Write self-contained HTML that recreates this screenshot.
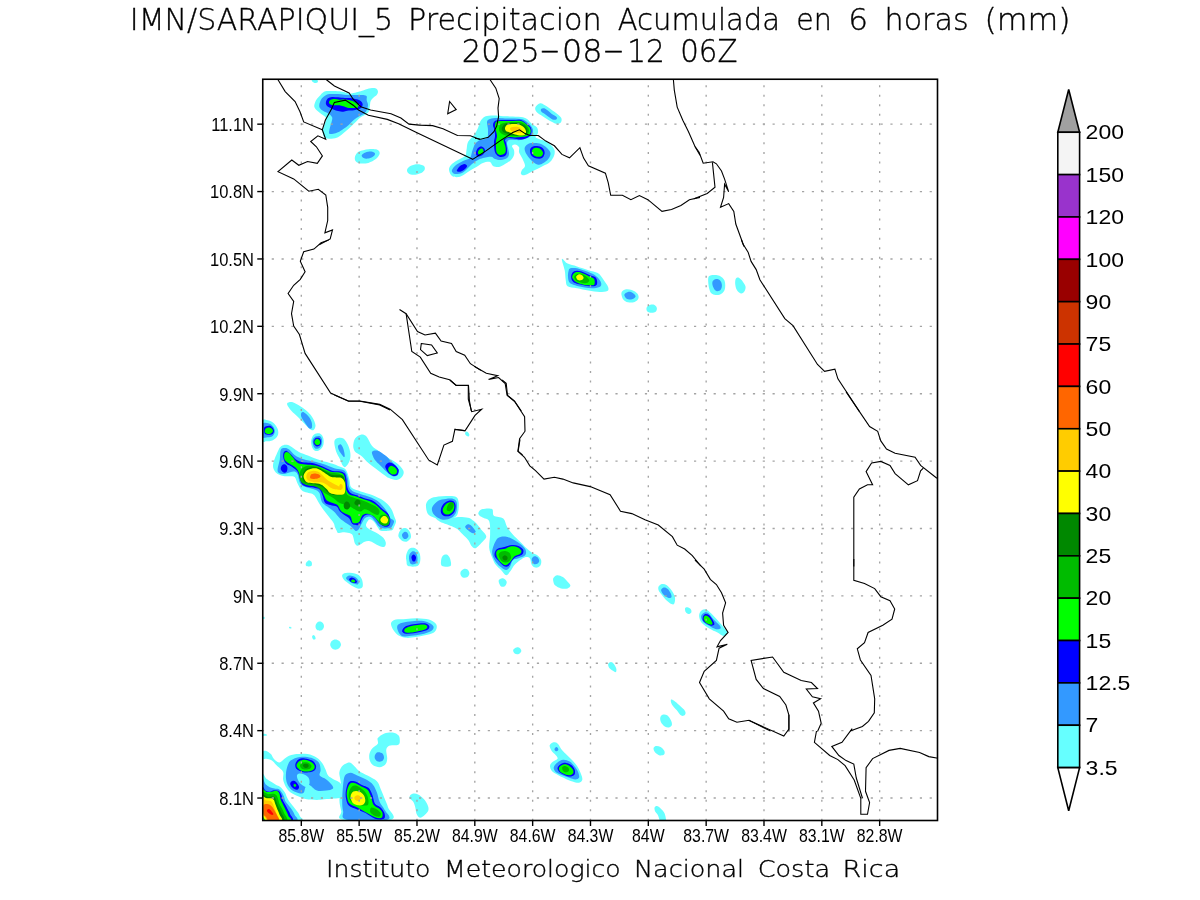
<!DOCTYPE html>
<html><head><meta charset="utf-8"><title>IMN/SARAPIQUI_5 Precipitacion Acumulada en 6 horas</title>
<style>
html,body{margin:0;padding:0;background:#fff;width:1200px;height:900px;overflow:hidden}
svg{display:block}
.g{stroke:#a4a4a4;stroke-width:1.35;stroke-dasharray:2 7.527;stroke-dashoffset:3.577}
.gh{stroke:#a4a4a4;stroke-width:1.35;stroke-dasharray:2.2 7.62;stroke-dashoffset:0.85}
.t{stroke:#000;stroke-width:1.4}
.ax{font-family:"Liberation Sans",Arial,sans-serif;font-size:17.5px;fill:#000}
.cbl{font-family:"Liberation Sans",Arial,sans-serif;font-size:20px;fill:#000}
.cb{stroke:#000;stroke-width:1.6}
.ti{font-family:"DejaVu Sans",sans-serif;font-weight:200;font-size:31px;fill:#000;stroke:#000;stroke-width:0.35px}
.co{fill:none;stroke:#000;stroke-width:1.1;stroke-linejoin:miter;stroke-miterlimit:6}
</style></head><body>
<svg width="1200" height="900" viewBox="0 0 1200 900">
<defs><clipPath id="mc"><rect x="262.75" y="79.25" width="674.75" height="741.25"/></clipPath></defs>
<g id="blobs" clip-path="url(#mc)"><path d="M314.3,105.0C314.6,103.8 315.2,101.8 316.0,100.3C316.8,98.9 318.0,97.8 319.3,96.3C320.7,94.9 322.2,92.6 324.0,91.7C325.8,90.8 327.4,91.1 330.0,91.0C332.6,90.9 336.9,91.1 339.3,91.3C341.8,91.6 342.9,91.9 344.7,92.3C346.4,92.7 348.0,93.7 350.0,93.7C352.0,93.7 354.9,92.7 356.7,92.3C358.4,91.9 358.9,91.9 360.7,91.3C362.4,90.8 365.2,89.6 367.3,89.0C369.4,88.4 371.8,88.0 373.3,88.0C374.9,88.0 375.9,88.4 376.7,89.0C377.4,89.6 378.0,90.7 378.0,91.7C378.0,92.7 377.4,94.0 376.7,95.0C375.9,96.0 374.3,96.7 373.3,97.7C372.3,98.7 371.2,99.8 370.7,101.0C370.1,102.2 370.3,103.2 370.0,105.0C369.7,106.8 369.6,110.0 368.7,111.7C367.8,113.3 366.1,114.0 364.7,115.0C363.2,116.0 361.3,116.7 360.0,117.7C358.7,118.7 358.1,119.6 356.7,121.0C355.2,122.4 353.1,124.7 351.3,126.3C349.6,128.0 347.7,129.6 346.0,131.0C344.3,132.4 342.9,133.9 341.3,135.0C339.8,136.1 338.6,137.1 336.7,137.7C334.8,138.3 331.8,138.6 330.0,138.7C328.2,138.8 327.1,138.8 326.0,138.3C324.9,137.8 323.9,137.0 323.3,135.7C322.8,134.3 322.5,132.1 322.7,130.3C322.8,128.6 323.8,126.7 324.3,125.0C324.9,123.3 325.8,121.7 326.0,120.3C326.2,119.0 326.3,118.2 325.3,117.0C324.3,115.8 321.4,114.1 320.0,113.0C318.6,111.9 317.6,111.2 316.7,110.3C315.8,109.4 315.1,108.6 314.7,107.7C314.3,106.8 314.1,106.2 314.3,105.0Z" fill="#66ffff"/>
<path d="M319.3,105.0C319.4,103.7 320.0,101.7 320.7,100.3C321.3,99.0 322.1,98.0 323.3,97.0C324.6,96.0 326.1,94.8 328.0,94.3C329.9,93.8 332.4,94.0 334.7,94.0C336.9,94.0 339.2,94.2 341.3,94.3C343.4,94.5 345.4,94.9 347.3,95.0C349.2,95.1 350.9,95.0 352.7,95.0C354.4,95.0 356.2,95.0 358.0,95.0C359.8,95.0 361.9,94.8 363.3,95.0C364.8,95.2 366.1,95.4 366.7,96.3C367.2,97.2 366.4,98.9 366.7,100.3C366.9,101.8 368.0,103.3 368.0,105.0C368.0,106.7 367.3,108.9 366.7,110.3C366.0,111.8 365.2,112.7 364.0,113.7C362.8,114.7 361.0,115.3 359.3,116.3C357.7,117.3 355.8,118.2 354.0,119.7C352.2,121.1 350.4,123.4 348.7,125.0C346.9,126.6 345.1,127.8 343.3,129.0C341.6,130.2 339.7,131.6 338.0,132.3C336.3,133.1 334.8,133.4 333.3,133.7C331.9,133.9 330.0,134.2 329.3,133.7C328.7,133.1 329.1,131.8 329.3,130.3C329.6,128.9 330.2,126.7 330.7,125.0C331.1,123.3 331.8,121.7 332.0,120.3C332.2,119.0 332.6,118.1 332.0,117.0C331.4,115.9 330.1,114.7 328.7,113.7C327.2,112.7 324.8,111.9 323.3,111.0C321.9,110.1 320.7,109.3 320.0,108.3C319.3,107.3 319.2,106.3 319.3,105.0Z" fill="#3399ff"/>
<path d="M326.0,101.7C326.3,100.7 327.0,99.1 328.0,98.3C329.0,97.6 330.3,97.2 332.0,97.0C333.7,96.8 335.9,97.2 338.0,97.3C340.1,97.5 342.7,97.9 344.7,98.0C346.7,98.1 348.0,97.8 350.0,98.0C352.0,98.2 354.9,98.8 356.7,99.3C358.4,99.8 359.7,100.2 360.7,101.0C361.7,101.8 362.6,103.2 362.7,104.3C362.8,105.4 362.1,106.8 361.3,107.7C360.6,108.5 359.2,108.9 358.0,109.3C356.8,109.8 355.8,110.1 354.0,110.3C352.2,110.6 349.1,110.4 347.3,110.7C345.6,110.9 344.9,111.6 343.3,111.7C341.8,111.7 339.6,111.3 338.0,111.0C336.4,110.7 335.3,110.2 334.0,109.7C332.7,109.1 331.1,108.2 330.0,107.7C328.9,107.1 328.0,106.9 327.3,106.3C326.7,105.8 326.2,105.1 326.0,104.3C325.8,103.6 325.7,102.7 326.0,101.7Z" fill="#0000ff"/>
<path d="M329.0,102.0C329.2,101.3 329.7,100.2 330.7,99.7C331.6,99.2 333.2,99.0 334.7,99.0C336.1,99.0 337.7,99.6 339.3,99.7C341.0,99.8 343.1,99.5 344.7,99.5C346.2,99.6 347.3,99.8 348.7,100.0C350.0,100.2 351.4,100.5 352.7,101.0C353.9,101.5 355.1,102.3 356.0,103.0C356.9,103.7 357.7,104.2 358.0,105.0C358.3,105.8 358.4,107.2 357.7,107.7C356.9,108.2 355.1,108.0 353.3,108.0C351.6,108.0 349.0,107.9 347.3,107.7C345.7,107.4 344.7,106.7 343.3,106.3C342.0,105.9 340.7,105.5 339.3,105.3C338.0,105.2 336.6,105.4 335.3,105.3C334.1,105.3 332.9,105.2 332.0,105.0C331.1,104.8 330.2,104.5 329.7,104.0C329.2,103.5 328.8,102.7 329.0,102.0Z" fill="#00ff00"/>
<path d="M449.0,170.0C448.8,168.2 449.7,166.6 451.0,165.0C452.3,163.4 454.7,162.0 457.0,160.5C459.3,159.0 463.4,157.8 465.0,156.0C466.6,154.2 466.0,152.3 466.5,150.0C467.0,147.7 466.8,144.5 468.0,142.0C469.2,139.5 472.3,137.3 474.0,135.0C475.7,132.7 477.0,130.2 478.0,128.0C479.0,125.8 479.2,123.7 480.0,122.0C480.8,120.3 481.8,119.0 483.0,118.0C484.2,117.0 485.0,116.4 487.0,116.0C489.0,115.6 492.7,115.5 495.0,115.5C497.3,115.5 498.5,115.8 501.0,116.0C503.5,116.2 506.7,116.3 510.0,116.5C513.3,116.7 518.2,116.6 521.0,117.0C523.8,117.4 525.2,117.8 527.0,119.0C528.8,120.2 530.3,122.6 532.0,124.0C533.7,125.4 536.0,126.0 537.0,127.5C538.0,129.0 538.2,131.4 538.0,133.0C537.8,134.6 535.3,136.0 535.5,137.0C535.7,138.0 537.4,138.3 539.0,139.0C540.6,139.7 543.0,140.0 545.0,141.0C547.0,142.0 549.4,143.5 551.0,145.0C552.6,146.5 554.0,148.2 554.5,150.0C555.0,151.8 554.8,154.0 554.0,156.0C553.2,158.0 551.8,160.3 550.0,162.0C548.2,163.7 545.5,164.7 543.0,166.0C540.5,167.3 538.0,168.5 535.0,170.0C532.0,171.5 527.3,174.3 525.0,175.0C522.7,175.7 521.5,174.8 521.0,174.0C520.5,173.2 521.3,171.3 522.0,170.0C522.7,168.7 524.8,167.7 525.0,166.0C525.2,164.3 523.7,161.7 523.0,160.0C522.3,158.3 521.7,157.3 521.0,156.0C520.3,154.7 519.3,153.5 519.0,152.0C518.7,150.5 519.7,148.2 519.0,147.0C518.3,145.8 516.2,144.7 515.0,144.5C513.8,144.3 512.2,145.1 512.0,146.0C511.8,146.9 513.7,148.5 514.0,150.0C514.3,151.5 514.5,153.3 514.0,155.0C513.5,156.7 512.5,158.5 511.0,160.0C509.5,161.5 507.0,162.8 505.0,164.0C503.0,165.2 501.0,166.7 499.0,167.0C497.0,167.3 494.5,166.8 493.0,166.0C491.5,165.2 491.7,162.5 490.0,162.0C488.3,161.5 485.0,162.3 483.0,163.0C481.0,163.7 480.0,164.8 478.0,166.0C476.0,167.2 473.2,168.7 471.0,170.0C468.8,171.3 467.0,172.8 465.0,174.0C463.0,175.2 461.2,176.7 459.0,177.0C456.8,177.3 453.7,177.2 452.0,176.0C450.3,174.8 449.2,171.8 449.0,170.0Z" fill="#66ffff"/>
<path d="M452.0,170.0C452.5,168.7 454.2,166.5 456.0,165.0C457.8,163.5 460.7,162.2 463.0,161.0C465.3,159.8 468.5,159.5 470.0,158.0C471.5,156.5 471.2,154.3 472.0,152.0C472.8,149.7 473.7,146.0 475.0,144.0C476.3,142.0 478.0,141.0 480.0,140.0C482.0,139.0 485.7,139.7 487.0,138.0C488.3,136.3 488.0,132.7 488.0,130.0C488.0,127.3 486.7,123.8 487.0,122.0C487.3,120.2 488.3,119.7 490.0,119.0C491.7,118.3 494.5,118.1 497.0,118.0C499.5,117.9 501.0,118.3 505.0,118.5C509.0,118.7 517.3,118.4 521.0,119.0C524.7,119.6 525.3,120.8 527.0,122.0C528.7,123.2 530.0,124.7 531.0,126.0C532.0,127.3 532.8,128.5 533.0,130.0C533.2,131.5 533.0,133.7 532.0,135.0C531.0,136.3 528.8,137.2 527.0,138.0C525.2,138.8 523.0,139.7 521.0,140.0C519.0,140.3 517.0,140.0 515.0,140.0C513.0,140.0 510.3,139.5 509.0,140.0C507.7,140.5 507.2,141.7 507.0,143.0C506.8,144.3 507.7,146.2 508.0,148.0C508.3,149.8 509.2,152.3 509.0,154.0C508.8,155.7 508.3,157.0 507.0,158.0C505.7,159.0 503.0,159.8 501.0,160.0C499.0,160.2 496.5,159.5 495.0,159.0C493.5,158.5 493.2,157.3 492.0,157.0C490.8,156.7 489.5,156.8 488.0,157.0C486.5,157.2 484.7,157.5 483.0,158.0C481.3,158.5 479.8,159.0 478.0,160.0C476.2,161.0 473.8,162.5 472.0,164.0C470.2,165.5 468.7,167.5 467.0,169.0C465.3,170.5 463.8,172.2 462.0,173.0C460.2,173.8 457.5,174.0 456.0,174.0C454.5,174.0 453.7,173.7 453.0,173.0C452.3,172.3 451.5,171.3 452.0,170.0Z" fill="#3399ff"/>
<path d="M525.0,147.0C525.7,145.8 527.3,144.2 529.0,143.5C530.7,142.8 533.0,142.9 535.0,143.0C537.0,143.1 539.0,143.2 541.0,144.0C543.0,144.8 545.4,146.5 547.0,148.0C548.6,149.5 550.2,151.3 550.5,153.0C550.8,154.7 549.9,156.5 549.0,158.0C548.1,159.5 546.5,160.9 545.0,162.0C543.5,163.1 541.5,164.2 540.0,164.5C538.5,164.8 537.5,164.8 536.0,164.0C534.5,163.2 532.5,161.5 531.0,160.0C529.5,158.5 528.0,156.5 527.0,155.0C526.0,153.5 525.3,152.3 525.0,151.0C524.7,149.7 524.3,148.2 525.0,147.0Z" fill="#3399ff"/>
<path d="M457.0,170.0C457.4,169.1 458.8,167.0 460.0,166.0C461.2,165.0 463.3,164.0 464.5,164.0C465.7,164.0 466.9,165.2 467.0,166.0C467.1,166.8 466.0,168.1 465.0,169.0C464.0,169.9 462.2,171.1 461.0,171.5C459.8,171.9 458.2,171.8 457.5,171.5C456.8,171.2 456.6,170.9 457.0,170.0Z" fill="#0000ff"/>
<path d="M476.0,152.0C476.2,150.8 477.2,148.9 478.0,148.0C478.8,147.1 480.0,146.5 481.0,146.5C482.0,146.5 483.3,147.2 484.0,148.0C484.7,148.8 485.2,149.9 485.0,151.0C484.8,152.1 484.0,153.6 483.0,154.5C482.0,155.4 480.1,156.3 479.0,156.5C477.9,156.7 477.0,156.2 476.5,155.5C476.0,154.8 475.8,153.2 476.0,152.0Z" fill="#0000ff"/>
<path d="M493.0,125.0C493.1,123.5 493.7,121.8 495.0,121.0C496.3,120.2 498.0,120.2 501.0,120.0C504.0,119.8 509.7,120.0 513.0,120.0C516.3,120.0 518.7,119.3 521.0,120.0C523.3,120.7 525.3,122.7 527.0,124.0C528.7,125.3 530.3,126.3 531.0,128.0C531.7,129.7 531.7,132.3 531.0,134.0C530.3,135.7 528.7,137.1 527.0,138.0C525.3,138.9 523.3,139.4 521.0,139.5C518.7,139.6 515.2,138.8 513.0,138.5C510.8,138.2 509.3,137.8 508.0,138.0C506.7,138.2 505.3,139.2 505.0,140.0C504.7,140.8 505.7,141.5 506.0,143.0C506.3,144.5 506.9,147.2 507.0,149.0C507.1,150.8 507.0,152.8 506.5,154.0C506.0,155.2 505.2,156.0 504.0,156.5C502.8,157.0 500.8,157.2 499.5,156.8C498.2,156.4 496.8,155.1 496.0,154.0C495.2,152.9 494.8,152.0 494.5,150.0C494.2,148.0 493.9,144.3 494.0,142.0C494.1,139.7 494.9,138.0 495.0,136.0C495.1,134.0 494.8,131.8 494.5,130.0C494.2,128.2 492.9,126.5 493.0,125.0Z" fill="#0000ff"/>
<path d="M530.0,150.0C530.2,148.8 531.0,147.7 532.0,147.0C533.0,146.3 534.5,146.0 536.0,146.0C537.5,146.0 539.7,146.3 541.0,147.0C542.3,147.7 543.4,148.8 544.0,150.0C544.6,151.2 544.8,152.7 544.5,154.0C544.2,155.3 543.2,157.2 542.0,158.0C540.8,158.8 538.5,158.7 537.0,158.5C535.5,158.3 534.1,157.8 533.0,157.0C531.9,156.2 531.0,155.2 530.5,154.0C530.0,152.8 529.8,151.2 530.0,150.0Z" fill="#0000ff"/>
<path d="M478.0,152.0C478.2,151.2 478.8,150.1 479.5,149.5C480.2,148.9 481.3,148.3 482.0,148.5C482.7,148.7 483.3,149.8 483.5,150.5C483.7,151.2 483.5,152.3 483.0,153.0C482.5,153.7 481.2,154.3 480.5,154.5C479.8,154.7 478.9,154.4 478.5,154.0C478.1,153.6 477.8,152.8 478.0,152.0Z" fill="#00ff00"/>
<path d="M495.0,127.0C495.0,125.5 495.0,123.0 496.0,122.0C497.0,121.0 498.2,121.2 501.0,121.0C503.8,120.8 509.7,121.0 513.0,121.0C516.3,121.0 518.8,120.5 521.0,121.0C523.2,121.5 524.5,122.8 526.0,124.0C527.5,125.2 529.2,126.5 530.0,128.0C530.8,129.5 531.0,131.7 530.5,133.0C530.0,134.3 528.6,135.3 527.0,136.0C525.4,136.7 523.0,136.8 521.0,137.0C519.0,137.2 516.8,137.5 515.0,137.5C513.2,137.5 511.8,136.8 510.0,137.0C508.2,137.2 505.0,138.2 504.0,139.0C503.0,139.8 503.8,140.7 504.0,142.0C504.2,143.3 505.2,145.3 505.5,147.0C505.8,148.7 505.9,150.8 505.5,152.0C505.1,153.2 504.1,154.0 503.0,154.5C501.9,155.0 500.1,155.2 499.0,154.8C497.9,154.4 497.0,153.3 496.5,152.0C496.0,150.7 496.1,148.8 496.0,147.0C495.9,145.2 495.8,142.8 496.0,141.0C496.2,139.2 497.0,137.7 497.0,136.0C497.0,134.3 496.3,132.5 496.0,131.0C495.7,129.5 495.0,128.5 495.0,127.0Z" fill="#00ff00"/>
<path d="M532.0,151.0C532.2,150.2 532.7,149.0 533.5,148.5C534.3,148.0 535.8,147.6 537.0,147.8C538.2,148.0 540.0,148.6 541.0,149.5C542.0,150.4 542.9,151.9 543.0,153.0C543.1,154.1 542.4,155.6 541.5,156.2C540.6,156.8 538.8,156.9 537.5,156.8C536.2,156.7 534.9,156.1 534.0,155.5C533.1,154.9 532.3,154.2 532.0,153.5C531.7,152.8 531.8,151.8 532.0,151.0Z" fill="#00ff00"/>
<path d="M499.0,128.0C499.2,126.8 499.7,124.9 501.0,124.0C502.3,123.1 504.7,122.8 507.0,122.5C509.3,122.2 512.5,122.0 515.0,122.0C517.5,122.0 520.0,121.8 522.0,122.5C524.0,123.2 525.8,124.8 527.0,126.0C528.2,127.2 528.8,128.7 529.0,130.0C529.2,131.3 528.7,133.1 528.0,134.0C527.3,134.9 526.5,135.1 525.0,135.5C523.5,135.9 521.0,136.1 519.0,136.2C517.0,136.3 515.0,136.3 513.0,136.2C511.0,136.1 508.8,136.2 507.0,135.8C505.2,135.4 503.2,134.7 502.0,134.0C500.8,133.3 500.0,132.5 499.5,131.5C499.0,130.5 498.8,129.2 499.0,128.0Z" fill="#00bb00"/>
<path d="M502.0,127.5C502.5,126.5 503.5,124.8 505.0,124.0C506.5,123.2 508.7,123.1 511.0,123.0C513.3,122.9 516.7,123.0 519.0,123.5C521.3,124.0 523.6,124.9 525.0,126.0C526.4,127.1 527.3,128.7 527.5,130.0C527.7,131.3 527.1,133.1 526.0,134.0C524.9,134.9 522.8,135.2 521.0,135.5C519.2,135.8 517.0,135.7 515.0,135.5C513.0,135.3 510.8,135.0 509.0,134.5C507.2,134.0 505.2,133.2 504.0,132.5C502.8,131.8 502.3,130.8 502.0,130.0C501.7,129.2 501.5,128.5 502.0,127.5Z" fill="#008800"/>
<path d="M505.0,128.0C505.2,127.0 505.7,125.7 507.0,125.0C508.3,124.3 511.0,124.1 513.0,124.0C515.0,123.9 517.2,123.9 519.0,124.5C520.8,125.1 522.8,126.3 524.0,127.5C525.2,128.7 525.8,130.3 526.0,131.5C526.2,132.7 525.8,133.8 525.0,134.5C524.2,135.2 522.7,135.5 521.0,135.5C519.3,135.5 516.8,135.0 515.0,134.5C513.2,134.0 511.5,133.1 510.0,132.5C508.5,131.9 506.8,131.8 506.0,131.0C505.2,130.2 504.8,129.0 505.0,128.0Z" fill="#ffff00"/>
<path d="M510.0,128.5C510.2,127.8 511.7,127.2 513.0,127.0C514.3,126.8 516.7,126.7 518.0,127.0C519.3,127.3 520.3,128.2 521.0,129.0C521.7,129.8 522.2,130.8 522.0,131.5C521.8,132.2 520.7,132.8 519.5,133.0C518.3,133.2 516.3,132.8 515.0,132.5C513.7,132.2 512.3,131.7 511.5,131.0C510.7,130.3 509.8,129.2 510.0,128.5Z" fill="#ffcc00"/>
<path d="M535.5,107.1C536.1,105.7 538.6,103.7 540.2,103.3C541.8,103.0 542.5,103.8 544.9,105.2C547.3,106.6 551.7,109.8 554.4,111.8C557.0,113.9 559.9,115.8 561.0,117.5C562.1,119.2 561.7,121.2 561.0,122.2C560.2,123.3 558.0,123.9 556.2,123.7C554.5,123.6 552.8,122.5 550.6,121.3C548.4,120.1 545.4,118.1 543.0,116.6C540.7,115.0 537.7,113.4 536.4,111.8C535.1,110.3 534.8,108.5 535.5,107.1Z" fill="#66ffff"/>
<path d="M541.1,109.0C541.7,108.5 543.2,107.8 544.9,108.6C546.6,109.4 549.6,112.3 551.5,113.7C553.5,115.1 555.8,116.0 556.6,116.9C557.4,117.9 556.9,119.0 556.2,119.4C555.5,119.8 554.2,120.2 552.5,119.4C550.7,118.6 547.7,115.9 545.8,114.7C544.0,113.4 542.3,112.8 541.5,111.8C540.7,110.9 540.6,109.5 541.1,109.0Z" fill="#3399ff"/>
<path d="M355.1,156.2C355.7,154.7 356.7,152.7 358.9,151.5C361.1,150.4 365.4,149.6 368.4,149.2C371.3,148.9 375.0,148.9 376.9,149.6C378.7,150.3 379.9,151.8 379.7,153.4C379.5,155.0 377.8,157.5 375.9,159.1C374.0,160.6 371.0,162.1 368.4,162.9C365.7,163.6 362.0,163.7 359.9,163.4C357.7,163.1 356.3,162.2 355.5,161.0C354.7,159.8 354.6,157.8 355.1,156.2Z" fill="#66ffff"/>
<path d="M361.7,155.3C362.1,154.4 363.9,153.1 365.5,152.5C367.1,151.8 369.6,151.4 371.2,151.5C372.8,151.7 374.7,152.6 375.0,153.4C375.3,154.3 374.2,155.8 373.1,156.6C372.0,157.5 369.9,158.3 368.4,158.5C366.8,158.8 364.7,158.7 363.6,158.1C362.5,157.6 361.4,156.2 361.7,155.3Z" fill="#3399ff"/>
<path d="M407.1,169.5C407.5,168.2 409.1,166.6 410.9,165.7C412.6,164.8 415.3,164.2 417.5,164.2C419.6,164.2 422.5,164.8 423.7,165.7C424.9,166.6 425.1,168.3 424.7,169.5C424.2,170.7 423.1,172.0 421.3,172.9C419.4,173.7 415.8,174.7 413.7,174.8C411.6,174.8 409.5,174.1 408.4,173.2C407.3,172.4 406.7,170.7 407.1,169.5Z" fill="#66ffff"/>
<path d="M311.7,80.7C311.5,80.1 312.6,79.8 313.6,79.7C314.5,79.6 316.7,79.7 317.3,80.1C318.0,80.5 318.2,81.7 317.7,82.2C317.3,82.7 315.5,83.2 314.5,82.9C313.5,82.7 311.8,81.2 311.7,80.7Z" fill="#66ffff"/>
<path d="M561.9,258.9C562.4,257.8 565.1,262.4 567.6,263.6C570.1,264.9 573.6,265.3 577.0,266.5C580.5,267.6 584.9,269.1 588.4,270.2C591.8,271.3 595.3,271.5 597.8,273.1C600.3,274.6 601.7,277.3 603.5,279.7C605.2,282.0 607.6,285.3 608.2,287.2C608.8,289.1 608.7,290.2 607.3,291.0C605.8,291.8 602.8,292.0 599.7,292.0C596.5,291.9 592.1,291.3 588.4,290.6C584.6,290.0 580.5,288.9 577.0,288.2C573.6,287.5 569.5,287.7 567.6,286.3C565.7,284.9 566.2,282.4 565.7,279.7C565.2,277.0 565.4,273.7 564.7,270.2C564.1,266.8 561.4,260.0 561.9,258.9Z" fill="#66ffff"/>
<path d="M568.5,271.2C568.9,269.8 569.0,268.8 570.4,268.3C571.8,267.9 574.0,267.7 577.0,268.3C580.0,269.0 585.2,270.9 588.4,272.1C591.5,273.4 593.9,274.3 595.9,275.9C598.0,277.5 599.9,279.8 600.6,281.6C601.4,283.3 601.7,285.2 600.6,286.3C599.5,287.4 596.7,288.0 594.0,288.2C591.3,288.4 587.7,288.1 584.6,287.6C581.4,287.1 577.7,286.2 575.1,285.3C572.6,284.5 570.7,283.9 569.5,282.5C568.3,281.1 568.1,278.7 568.0,276.8C567.8,275.0 568.1,272.6 568.5,271.2Z" fill="#3399ff"/>
<path d="M571.4,275.0C571.8,273.5 572.6,271.8 574.2,271.2C575.8,270.5 578.3,270.5 580.8,271.2C583.3,271.8 586.8,273.8 589.3,275.0C591.8,276.1 594.7,276.2 595.9,277.8C597.2,279.4 597.5,283.0 596.9,284.4C596.2,285.8 594.3,286.1 592.1,286.3C589.9,286.4 586.5,285.9 583.6,285.3C580.8,284.8 577.1,284.0 575.1,283.1C573.1,282.1 572.4,281.0 571.7,279.7C571.1,278.3 570.9,276.4 571.4,275.0Z" fill="#0000ff"/>
<path d="M572.3,275.9C572.7,274.9 573.7,273.1 575.1,272.5C576.5,271.9 578.6,271.9 580.8,272.5C583.0,273.1 586.2,274.9 588.4,275.9C590.6,276.9 593.0,277.3 594.0,278.7C595.0,280.1 595.0,283.3 594.4,284.4C593.8,285.5 592.2,285.3 590.2,285.3C588.3,285.3 585.1,285.0 582.7,284.4C580.3,283.8 577.7,282.9 576.1,281.9C574.4,281.0 573.5,279.7 572.9,278.7C572.2,277.7 571.9,276.9 572.3,275.9Z" fill="#00ff00"/>
<path d="M574.2,276.8C574.3,275.7 575.8,274.5 577.0,274.0C578.3,273.5 580.2,273.5 581.7,274.0C583.3,274.5 585.2,275.7 586.5,276.8C587.7,277.9 589.3,279.6 589.3,280.6C589.3,281.7 587.9,282.8 586.5,283.1C585.1,283.4 582.5,282.9 580.8,282.5C579.1,282.1 577.2,281.6 576.1,280.6C575.0,279.7 574.0,277.9 574.2,276.8Z" fill="#00bb00"/>
<path d="M576.1,276.8C576.2,275.9 577.6,274.7 578.5,274.4C579.5,274.1 580.9,274.4 581.7,275.0C582.6,275.5 583.6,276.9 583.6,277.8C583.6,278.6 582.7,279.7 581.7,280.1C580.8,280.4 578.9,280.6 578.0,280.1C577.0,279.5 576.0,277.8 576.1,276.8Z" fill="#ffff00"/>
<path d="M621.4,292.9C621.7,291.2 623.5,290.0 625.2,289.5C626.9,289.0 629.8,289.3 631.8,290.1C633.9,290.8 636.4,292.4 637.5,293.8C638.6,295.3 638.9,297.2 638.4,298.6C638.0,299.9 636.4,301.3 634.6,302.0C632.9,302.6 629.9,302.8 628.0,302.3C626.1,301.9 624.4,301.1 623.3,299.5C622.2,297.9 621.1,294.6 621.4,292.9Z" fill="#66ffff"/>
<path d="M624.3,294.8C624.4,293.6 626.6,292.3 628.0,292.0C629.4,291.6 631.5,292.2 632.8,292.9C634.0,293.6 635.6,295.3 635.6,296.3C635.6,297.3 634.2,298.5 632.8,298.9C631.3,299.4 628.5,299.8 627.1,299.1C625.7,298.4 624.1,296.0 624.3,294.8Z" fill="#3399ff"/>
<path d="M646.5,308.0C646.8,307.0 647.6,305.7 648.8,305.2C650.0,304.6 652.2,304.2 653.5,304.6C654.9,305.0 656.3,306.5 656.7,307.6C657.2,308.8 656.8,310.6 656.0,311.4C655.1,312.3 653.1,312.7 651.6,312.7C650.2,312.7 648.2,312.2 647.3,311.4C646.5,310.6 646.3,309.1 646.5,308.0Z" fill="#66ffff"/>
<path d="M708.3,277.8C708.8,275.5 710.5,275.5 712.4,275.1C714.2,274.8 717.5,274.8 719.5,275.7C721.5,276.7 723.8,278.5 724.6,280.8C725.5,283.2 725.5,287.7 724.6,290.0C723.8,292.3 721.5,294.0 719.5,294.7C717.5,295.4 714.1,295.1 712.4,294.1C710.7,293.2 710.0,291.7 709.3,289.0C708.6,286.3 707.8,280.1 708.3,277.8Z" fill="#66ffff"/>
<path d="M712.4,281.9C712.7,280.5 714.2,279.5 715.4,279.2C716.7,278.9 718.8,279.3 719.9,280.2C721.0,281.2 721.8,283.3 721.9,284.9C722.1,286.5 721.4,289.0 720.5,290.0C719.6,291.0 717.6,291.5 716.4,291.0C715.2,290.6 714.1,288.9 713.4,287.4C712.7,285.8 712.0,283.2 712.4,281.9Z" fill="#3399ff"/>
<path d="M735.8,278.8C736.4,277.8 737.7,277.3 738.9,277.8C740.1,278.3 741.9,280.3 743.0,281.9C744.1,283.4 745.5,285.3 745.6,287.0C745.8,288.7 744.8,291.0 744.0,292.1C743.2,293.2 742.1,293.8 740.9,293.5C739.7,293.2 737.8,291.6 736.9,290.0C735.9,288.4 735.4,285.8 735.2,283.9C735.1,282.0 735.2,279.8 735.8,278.8Z" fill="#66ffff"/>
<path d="M273.0,464.9C273.3,461.4 276.3,454.8 277.7,451.7C279.1,448.6 279.8,447.1 281.5,446.0C283.2,444.9 285.3,444.2 288.1,445.1C290.9,446.1 295.2,450.0 298.5,451.7C301.8,453.4 304.8,454.2 307.9,455.5C311.0,456.8 314.1,458.1 317.3,459.2C320.5,460.3 323.3,461.0 326.8,462.1C330.3,463.2 335.0,464.6 338.1,465.9C341.2,467.1 343.8,467.2 345.7,469.6C347.6,472.0 348.6,477.0 349.5,480.0C350.4,483.0 349.5,485.7 351.4,487.6C353.3,489.5 357.4,490.1 360.8,491.4C364.2,492.6 368.3,493.5 372.1,495.1C375.9,496.7 380.4,498.6 383.5,500.8C386.6,503.0 389.1,505.6 391.0,508.4C392.9,511.2 394.0,515.6 394.8,517.8C395.6,520.0 396.1,520.2 396.0,521.7C395.9,523.2 394.6,525.7 394.0,527.0C393.4,528.3 393.6,529.1 392.7,529.7C391.8,530.3 390.7,530.5 388.7,530.7C386.7,530.9 382.5,531.2 380.7,530.7C378.9,530.2 379.1,529.2 378.0,527.7C376.9,526.2 375.3,523.1 374.0,521.7C372.7,520.3 371.1,519.3 370.0,519.3C368.9,519.3 368.0,520.8 367.3,521.7C366.6,522.7 366.0,524.0 366.0,525.0C366.0,526.0 366.2,526.7 367.3,527.7C368.4,528.7 370.9,530.0 372.7,531.0C374.5,532.0 376.2,532.6 378.0,533.7C379.8,534.8 382.0,536.3 383.3,537.7C384.6,539.1 385.4,541.0 385.7,542.3C386.0,543.6 385.8,544.9 385.3,545.7C384.8,546.5 384.1,547.2 382.7,547.0C381.3,546.8 378.8,545.7 376.7,544.7C374.6,543.8 372.0,541.8 370.0,541.3C368.0,540.8 366.2,541.2 364.7,541.7C363.1,542.2 361.9,543.6 360.7,544.3C359.5,545.0 358.3,545.9 357.3,545.7C356.3,545.5 355.3,544.3 354.7,543.0C354.1,541.7 353.9,539.4 353.5,538.0C353.1,536.6 352.9,535.4 352.2,534.6C351.5,533.8 350.7,533.4 349.1,533.0C347.6,532.6 344.7,532.2 342.9,532.2C341.1,532.2 339.2,533.2 338.2,533.0C337.2,532.8 337.2,531.6 336.7,530.7C336.2,529.8 335.6,528.9 335.1,527.6C334.6,526.3 334.6,524.7 333.6,522.9C332.6,521.1 330.6,518.9 328.9,516.7C327.2,514.5 325.1,512.0 323.4,509.7C321.7,507.4 320.1,504.8 318.8,502.7C317.5,500.6 316.7,498.6 315.7,497.2C314.7,495.8 314.0,494.9 312.6,494.1C311.2,493.3 308.9,493.2 307.1,492.6C305.3,492.0 303.2,491.6 301.7,490.2C300.1,488.8 299.0,486.2 297.8,484.0C296.6,481.8 296.0,478.3 294.7,477.0C293.4,475.7 291.9,476.4 290.0,476.2C288.1,476.0 285.7,476.6 283.3,476.0C280.9,475.4 277.5,474.4 275.8,472.5C274.1,470.6 272.7,468.4 273.0,464.9Z" fill="#66ffff"/>
<path d="M277.6,469.3C277.7,467.1 279.3,462.8 279.8,459.5C280.3,456.2 279.9,451.7 280.8,449.8C281.7,447.9 283.8,448.1 285.2,448.1C286.6,448.1 287.9,448.6 289.5,449.8C291.1,451.0 292.9,453.8 294.9,455.2C296.9,456.6 298.7,457.4 301.4,458.4C304.1,459.4 307.9,460.3 311.2,461.1C314.4,461.9 318.0,462.5 320.9,463.3C323.8,464.1 326.0,465.1 328.5,466.0C331.0,466.9 333.8,468.1 336.1,468.7C338.5,469.3 341.0,469.2 342.6,469.8C344.2,470.4 344.9,471.0 345.8,472.5C346.7,474.0 347.4,476.6 348.0,479.0C348.6,481.4 348.4,484.6 349.1,486.6C349.8,488.6 350.3,489.6 352.3,490.9C354.3,492.2 358.1,493.2 361.0,494.2C363.9,495.2 367.0,495.8 369.7,496.9C372.4,498.0 375.1,499.2 377.3,500.7C379.5,502.2 381.1,504.3 382.7,506.1C384.3,507.9 385.7,509.5 387.0,511.5C388.3,513.5 389.1,516.4 390.3,518.0C391.5,519.6 393.7,519.6 394.0,521.0C394.3,522.4 392.7,525.1 392.0,526.3C391.3,527.5 391.7,527.7 390.0,528.0C388.3,528.3 383.9,528.6 382.0,528.3C380.1,528.0 379.8,527.4 378.7,526.3C377.6,525.2 376.5,523.2 375.3,521.7C374.1,520.2 372.5,518.1 371.3,517.3C370.1,516.5 369.1,516.5 368.0,516.7C366.9,516.9 365.7,517.2 364.7,518.3C363.7,519.3 362.8,521.5 362.0,523.0C361.2,524.5 360.7,525.8 360.0,527.0C359.3,528.2 358.8,529.4 358.0,530.0C357.2,530.6 356.5,531.4 355.3,530.7C354.1,530.0 352.2,527.3 350.7,526.0C349.1,524.7 347.8,524.2 346.0,522.9C344.2,521.6 341.9,520.2 339.8,518.2C337.7,516.2 335.7,513.1 333.6,511.2C331.5,509.3 329.2,508.2 327.3,506.6C325.4,505.1 323.2,504.1 321.9,501.9C320.6,499.7 320.5,495.2 319.6,493.3C318.7,491.4 317.7,491.0 316.4,490.2C315.1,489.4 313.6,489.2 311.8,488.7C310.0,488.2 307.6,488.0 305.6,487.1C303.7,486.2 301.4,485.3 300.1,483.2C298.8,481.1 298.7,476.6 297.8,474.7C296.9,472.8 296.0,472.0 294.7,471.6C293.4,471.2 291.8,471.9 290.0,472.3C288.2,472.7 285.8,473.9 284.0,474.0C282.2,474.1 280.1,473.8 279.0,473.0C277.9,472.2 277.5,471.6 277.6,469.3Z" fill="#3399ff"/>
<path d="M283.5,458.4C283.1,456.6 283.1,454.3 283.5,453.0C284.0,451.7 285.1,450.7 286.3,450.8C287.4,451.0 289.0,452.6 290.6,454.1C292.2,455.5 294.0,458.1 296.0,459.5C298.0,460.9 300.2,461.7 302.5,462.2C304.9,462.8 307.4,462.3 310.1,462.8C312.8,463.2 316.0,464.0 318.8,464.9C321.5,465.8 324.0,467.2 326.3,468.2C328.7,469.2 330.5,470.3 332.8,470.9C335.2,471.4 338.4,471.0 340.4,471.4C342.4,471.9 343.8,472.3 344.8,473.6C345.7,474.9 345.9,476.7 346.4,479.0C346.8,481.4 346.7,485.3 347.5,487.7C348.2,490.0 349.2,491.8 350.7,493.1C352.2,494.4 354.2,494.4 356.7,495.3C359.1,496.2 362.6,497.6 365.3,498.5C368.0,499.4 370.8,499.6 372.9,500.7C375.1,501.8 376.7,503.6 378.3,505.0C380.0,506.4 381.1,507.9 382.7,509.3C384.3,510.8 386.8,511.9 388.1,513.7C389.4,515.5 390.1,518.2 390.3,520.2C390.4,522.2 390.1,524.5 389.2,525.6C388.3,526.7 386.5,527.0 384.8,526.7C383.2,526.3 381.1,524.9 379.4,523.4C377.8,522.0 376.5,519.5 375.1,518.0C373.6,516.6 372.2,515.3 370.8,514.8C369.3,514.2 367.7,514.4 366.4,514.8C365.2,515.1 364.1,515.8 363.2,516.9C362.3,518.0 361.5,520.0 361.0,521.3C360.5,522.5 360.7,523.7 360.0,524.4C359.3,525.0 358.2,525.3 356.9,525.2C355.6,525.0 353.5,524.9 352.2,523.7C350.9,522.5 350.4,519.6 349.1,518.2C347.8,516.8 345.9,516.3 344.4,515.1C342.9,513.9 341.1,512.6 339.8,511.2C338.5,509.8 338.3,507.6 336.7,506.6C335.1,505.6 332.3,505.7 330.4,505.0C328.5,504.4 326.3,504.2 325.0,502.7C323.7,501.1 323.6,497.9 322.7,495.7C321.8,493.5 320.9,490.7 319.6,489.4C318.3,488.1 316.7,488.3 314.9,487.9C313.1,487.5 310.8,487.6 308.7,487.1C306.6,486.6 303.8,486.1 302.4,484.8C301.0,483.5 300.7,481.1 300.1,479.3C299.5,477.5 299.3,475.4 298.6,473.9C298.0,472.4 297.5,471.3 296.2,470.0C294.9,468.7 292.2,467.0 290.6,466.0C288.9,465.0 287.4,465.1 286.3,463.8C285.1,462.6 284.0,460.2 283.5,458.4Z" fill="#0000ff"/>
<path d="M280.8,469.3C280.6,468.1 281.2,466.3 281.9,465.5C282.6,464.6 284.3,464.1 285.2,464.4C286.1,464.6 287.1,465.9 287.3,467.1C287.6,468.3 287.4,470.5 286.8,471.4C286.2,472.3 284.5,472.9 283.5,472.5C282.5,472.1 281.1,470.4 280.8,469.3Z" fill="#0000ff"/>
<path d="M284.1,456.3C284.1,454.9 284.4,453.1 285.2,452.5C285.9,451.8 287.2,451.6 288.4,452.5C289.7,453.3 291.1,455.5 292.8,457.3C294.4,459.1 296.0,462.1 298.2,463.3C300.3,464.5 302.9,464.0 305.8,464.4C308.6,464.7 312.4,464.7 315.5,465.5C318.6,466.2 321.5,467.6 324.2,468.7C326.9,469.8 329.2,471.3 331.8,472.0C334.3,472.6 337.4,472.1 339.3,472.5C341.3,473.0 342.7,473.2 343.7,474.7C344.7,476.1 344.9,478.8 345.3,481.2C345.7,483.5 345.2,486.6 345.8,488.8C346.5,490.9 347.5,492.9 349.1,494.2C350.7,495.4 353.1,495.4 355.6,496.3C358.1,497.2 361.7,498.7 364.3,499.6C366.8,500.5 368.8,500.9 370.8,501.8C372.7,502.7 374.6,503.7 376.2,505.0C377.8,506.3 378.9,507.9 380.5,509.3C382.1,510.8 384.5,512.2 385.9,513.7C387.4,515.1 388.6,516.4 389.2,518.0C389.7,519.6 389.7,522.2 389.2,523.4C388.6,524.7 387.2,525.4 385.9,525.6C384.7,525.8 383.0,525.4 381.6,524.5C380.1,523.6 378.7,521.6 377.3,520.2C375.8,518.7 374.6,516.9 372.9,515.8C371.3,514.8 369.1,513.9 367.5,513.7C365.9,513.5 364.3,514.0 363.2,514.8C362.1,515.5 361.7,516.7 361.0,518.0C360.3,519.3 360.2,521.5 358.8,522.3C357.5,523.2 354.4,523.8 353.0,522.9C351.6,522.0 351.7,518.1 350.7,516.7C349.7,515.3 348.4,515.2 346.8,514.3C345.2,513.4 342.9,512.8 341.3,511.2C339.7,509.7 338.9,506.4 337.4,505.0C335.9,503.6 333.8,503.5 332.0,502.7C330.2,501.9 328.0,501.7 326.6,500.3C325.2,498.9 324.5,496.2 323.4,494.1C322.4,492.0 321.5,489.2 320.3,487.9C319.1,486.6 318.2,486.7 316.4,486.3C314.6,485.9 311.6,486.1 309.4,485.6C307.2,485.1 304.6,484.4 303.2,483.2C301.8,482.0 301.7,480.6 300.9,478.6C300.1,476.6 299.4,473.3 298.4,471.4C297.4,469.5 296.4,468.3 294.9,467.1C293.4,465.8 291.1,464.9 289.5,463.8C287.9,462.8 286.1,461.8 285.2,460.6C284.3,459.3 284.1,457.6 284.1,456.3Z" fill="#00ff00"/>
<path d="M299.3,475.8C299.3,473.6 300.2,470.9 301.4,469.3C302.7,467.6 304.3,466.5 306.8,466.0C309.4,465.6 313.7,465.9 316.6,466.5C319.5,467.2 321.8,468.8 324.2,469.8C326.5,470.8 328.3,471.9 330.7,472.5C333.0,473.1 336.1,472.9 338.3,473.6C340.4,474.3 342.5,475.2 343.7,476.8C344.8,478.5 344.9,481.0 345.3,483.3C345.7,485.7 345.4,488.9 345.8,490.9C346.3,492.9 346.6,494.1 348.0,495.3C349.5,496.4 352.0,497.1 354.5,498.0C357.0,498.9 360.6,499.8 363.2,500.7C365.7,501.6 367.7,502.5 369.7,503.4C371.7,504.3 373.5,504.9 375.1,506.1C376.7,507.3 378.9,509.0 379.4,510.4C380.0,511.9 379.2,514.2 378.3,514.8C377.4,515.3 375.6,514.4 374.0,513.7C372.4,513.0 370.2,511.1 368.6,510.4C367.0,509.7 365.5,509.2 364.3,509.3C363.0,509.5 362.3,511.3 361.0,511.5C359.7,511.7 358.3,511.1 356.7,510.4C355.0,509.7 353.1,508.1 351.3,507.2C349.5,506.3 347.8,505.7 345.8,505.0C343.9,504.3 341.3,503.9 339.3,502.8C337.4,501.8 335.7,499.8 333.9,498.5C332.1,497.2 330.3,496.3 328.5,495.3C326.7,494.2 324.7,493.2 323.1,492.0C321.5,490.8 320.4,489.2 318.8,488.2C317.1,487.2 315.5,486.7 313.3,486.0C311.2,485.4 307.7,485.1 305.8,484.4C303.8,483.8 302.5,483.7 301.4,482.3C300.3,480.8 299.3,477.9 299.3,475.8Z" fill="#00bb00"/>
<path d="M302.5,475.8C302.7,473.9 303.4,471.7 304.7,470.3C305.9,469.0 307.9,468.1 310.1,467.6C312.3,467.2 315.1,467.0 317.7,467.6C320.2,468.3 322.9,470.2 325.3,471.4C327.6,472.6 329.8,474.0 331.8,474.7C333.7,475.3 335.4,475.0 337.2,475.2C339.0,475.4 341.3,474.8 342.6,475.8C343.9,476.7 344.3,479.0 344.8,481.2C345.2,483.3 345.5,486.6 345.3,488.8C345.1,490.9 345.0,493.1 343.7,494.2C342.3,495.3 339.3,495.3 337.2,495.3C335.0,495.3 332.5,494.9 330.7,494.2C328.9,493.4 327.8,492.2 326.3,490.9C324.9,489.7 323.8,487.7 322.0,486.6C320.2,485.5 317.9,485.0 315.5,484.4C313.2,483.9 309.9,483.9 307.9,483.3C305.9,482.8 304.5,482.4 303.6,481.2C302.7,479.9 302.3,477.6 302.5,475.8Z" fill="#008800"/>
<path d="M303.6,476.8C303.4,475.0 304.5,472.8 305.8,471.4C307.0,470.1 309.2,469.2 311.2,468.7C313.2,468.3 315.5,468.1 317.7,468.7C319.8,469.3 322.0,471.1 324.2,472.5C326.3,473.9 328.7,476.0 330.7,476.8C332.7,477.6 334.3,477.2 336.1,477.4C337.9,477.6 340.1,477.1 341.5,477.9C343.0,478.7 344.1,480.3 344.8,482.3C345.4,484.2 345.5,487.9 345.3,489.8C345.1,491.8 345.0,493.4 343.7,494.2C342.3,495.0 339.4,494.9 337.2,494.7C334.9,494.5 331.9,494.1 330.1,493.1C328.3,492.1 327.9,490.2 326.3,488.8C324.8,487.3 323.1,485.3 320.9,484.4C318.8,483.5 315.7,483.7 313.3,483.3C311.0,483.0 308.5,483.3 306.8,482.3C305.2,481.2 303.8,478.6 303.6,476.8Z" fill="#ffff00"/>
<path d="M306.3,476.8C306.4,475.7 306.9,473.5 307.9,472.5C308.9,471.5 310.6,471.1 312.3,470.9C313.9,470.7 316.0,470.8 317.7,471.4C319.3,472.1 320.4,473.2 322.0,474.7C323.6,476.1 325.6,478.6 327.4,480.1C329.2,481.5 331.2,482.4 332.8,483.3C334.5,484.2 335.9,484.8 337.2,485.5C338.4,486.2 339.7,486.9 340.4,487.7C341.1,488.4 341.7,489.5 341.5,489.8C341.3,490.2 340.4,489.9 339.3,489.8C338.3,489.7 336.4,489.7 335.0,489.3C333.6,488.9 332.1,488.5 330.7,487.7C329.2,486.9 328.0,485.3 326.3,484.4C324.7,483.5 322.7,482.6 320.9,482.3C319.1,481.9 317.3,482.4 315.5,482.3C313.7,482.1 311.4,481.6 310.1,481.2C308.7,480.7 308.0,480.3 307.4,479.5C306.7,478.8 306.2,478.0 306.3,476.8Z" fill="#ffcc00"/>
<path d="M339.3,485.5C339.6,484.9 340.1,484.0 340.6,483.9C341.1,483.8 342.0,484.2 342.4,485.0C342.7,485.7 342.9,487.5 342.6,488.2C342.3,488.9 341.2,489.1 340.6,489.0C340.1,488.9 339.6,488.2 339.3,487.7C339.1,487.1 339.1,486.1 339.3,485.5Z" fill="#ffcc00"/>
<path d="M310.1,476.8C310.3,476.1 310.8,474.7 311.7,474.1C312.6,473.6 314.2,473.3 315.5,473.4C316.8,473.5 318.5,474.1 319.3,474.7C320.1,475.2 320.7,476.2 320.4,476.8C320.1,477.5 318.8,478.1 317.7,478.5C316.5,478.8 314.5,479.0 313.3,479.0C312.2,479.0 311.2,478.8 310.6,478.5C310.1,478.1 309.9,477.6 310.1,476.8Z" fill="#ff6600"/>
<path d="M343.7,505.0C343.9,503.8 345.0,502.2 345.8,501.8C346.7,501.3 347.8,501.6 348.5,502.3C349.3,503.0 350.3,504.9 350.2,506.1C350.1,507.3 348.9,508.9 348.0,509.3C347.1,509.8 345.5,509.5 344.8,508.8C344.0,508.1 343.5,506.2 343.7,505.0Z" fill="#008800"/>
<path d="M354.5,502.3C354.8,501.5 355.9,499.9 356.7,499.6C357.5,499.2 358.8,499.4 359.4,500.1C360.0,500.9 360.7,503.0 360.5,503.9C360.2,504.8 358.7,505.5 357.8,505.5C356.9,505.6 355.6,505.0 355.0,504.5C354.5,503.9 354.2,503.1 354.5,502.3Z" fill="#008800"/>
<path d="M378.9,520.2C379.0,518.8 379.7,516.7 380.5,515.8C381.3,514.9 382.6,514.8 383.8,514.8C384.9,514.8 386.6,514.9 387.6,515.8C388.5,516.7 389.1,518.7 389.2,520.2C389.3,521.6 389.0,523.6 388.1,524.5C387.2,525.4 385.1,525.7 383.8,525.6C382.4,525.5 380.8,524.9 380.0,524.0C379.2,523.1 378.8,521.5 378.9,520.2Z" fill="#00bb00"/>
<path d="M380.5,519.1C380.8,518.2 381.8,516.8 382.7,516.4C383.6,515.9 385.0,515.8 385.9,516.4C386.8,516.9 387.9,518.5 388.1,519.6C388.3,520.7 387.7,522.2 387.0,522.9C386.3,523.5 384.8,523.6 383.8,523.4C382.8,523.2 381.6,522.5 381.1,521.8C380.5,521.1 380.2,520.0 380.5,519.1Z" fill="#ffff00"/>
<path d="M262.6,421.5C263.2,418.0 264.6,419.8 266.3,419.9C268.1,420.1 271.1,420.9 272.9,422.4C274.8,423.9 276.9,426.8 277.7,429.0C278.5,431.2 278.5,433.7 277.7,435.6C276.9,437.5 274.8,439.4 272.9,440.3C271.1,441.3 268.1,441.3 266.3,441.3C264.6,441.3 263.2,443.6 262.6,440.3C261.9,437.0 261.9,424.9 262.6,421.5Z" fill="#66ffff"/>
<path d="M262.6,424.3C263.5,422.0 266.5,423.0 268.2,423.3C270.0,423.7 271.8,424.8 272.9,426.2C274.1,427.6 275.0,430.1 274.8,431.8C274.7,433.6 273.4,435.6 272.0,436.6C270.6,437.5 267.9,437.4 266.3,437.5C264.8,437.6 263.2,439.1 262.6,436.9C261.9,434.7 261.6,426.6 262.6,424.3Z" fill="#3399ff"/>
<path d="M264.1,428.1C264.3,426.8 265.2,426.5 266.3,426.2C267.5,425.9 269.8,425.5 271.1,426.2C272.3,426.8 273.6,428.7 273.9,430.0C274.2,431.2 273.7,432.9 272.9,433.7C272.2,434.5 270.5,434.7 269.2,434.7C267.8,434.7 265.7,434.8 264.8,433.7C264.0,432.6 263.8,429.3 264.1,428.1Z" fill="#0000ff"/>
<path d="M265.4,429.0C266.0,428.3 267.2,427.6 268.2,427.5C269.3,427.4 270.8,428.0 271.6,428.6C272.4,429.3 273.1,430.4 272.9,431.3C272.8,432.1 271.5,433.3 270.5,433.7C269.5,434.1 267.7,434.0 266.7,433.7C265.8,433.4 265.0,432.6 264.8,431.8C264.6,431.1 264.8,429.7 265.4,429.0Z" fill="#00ff00"/>
<path d="M287.1,403.5C287.6,402.3 290.6,401.7 292.8,402.2C295.0,402.7 297.8,404.7 300.3,406.3C302.9,408.0 305.9,410.1 307.9,412.0C309.9,413.9 311.4,415.5 312.6,417.7C313.9,419.9 315.3,423.2 315.5,425.2C315.6,427.3 314.5,429.3 313.6,430.0C312.6,430.6 311.4,430.1 309.8,429.0C308.2,427.9 306.3,425.5 304.1,423.3C301.9,421.1 298.9,418.1 296.6,415.8C294.2,413.4 291.5,411.2 290.0,409.2C288.4,407.1 286.6,404.7 287.1,403.5Z" fill="#66ffff"/>
<path d="M301.3,412.9C301.8,412.2 302.9,411.8 304.1,412.4C305.4,413.0 307.6,415.1 308.8,416.7C310.1,418.4 311.2,420.5 311.7,422.4C312.2,424.3 312.2,427.1 311.7,428.1C311.2,429.0 310.1,429.2 308.8,428.1C307.6,427.0 305.4,423.3 304.1,421.5C302.9,419.6 301.8,418.1 301.3,416.7C300.8,415.3 300.8,413.7 301.3,412.9Z" fill="#3399ff"/>
<path d="M311.7,438.5C312.2,436.8 313.1,435.1 314.5,434.3C315.9,433.5 318.7,433.0 320.2,433.7C321.7,434.4 322.9,436.4 323.4,438.5C323.9,440.5 323.9,444.0 323.0,446.0C322.2,448.1 319.9,450.1 318.3,450.7C316.7,451.4 314.7,450.9 313.6,449.8C312.4,448.7 311.6,446.0 311.3,444.1C311.0,442.2 311.1,440.1 311.7,438.5Z" fill="#66ffff"/>
<path d="M312.6,440.3C312.9,438.6 314.2,437.3 315.5,436.6C316.7,435.9 319.1,435.6 320.2,436.2C321.3,436.8 321.9,438.7 322.1,440.3C322.2,442.0 321.9,444.6 321.1,446.0C320.3,447.4 318.5,448.7 317.3,448.8C316.1,449.0 314.7,448.4 313.9,447.0C313.2,445.5 312.4,442.1 312.6,440.3Z" fill="#3399ff"/>
<path d="M313.6,441.3C313.8,440.2 314.9,438.6 315.8,438.1C316.8,437.5 318.4,437.5 319.2,438.1C320.1,438.6 321.0,440.1 321.1,441.3C321.3,442.5 320.9,444.2 320.2,445.1C319.5,445.9 317.9,446.5 317.0,446.4C316.0,446.3 314.9,445.3 314.3,444.5C313.8,443.6 313.3,442.4 313.6,441.3Z" fill="#0000ff"/>
<path d="M314.5,441.3C314.8,440.5 316.1,439.0 317.0,438.8C317.8,438.7 319.1,439.6 319.6,440.3C320.1,441.1 320.5,442.4 320.2,443.2C319.9,444.0 318.6,445.0 317.7,445.1C316.9,445.2 315.6,444.4 315.1,443.7C314.5,443.1 314.2,442.1 314.5,441.3Z" fill="#00ff00"/>
<path d="M334.4,441.3C334.7,439.0 336.6,438.5 338.1,438.1C339.7,437.7 342.2,437.7 343.8,438.8C345.4,440.0 346.9,442.6 348.0,445.1C349.1,447.5 350.2,450.9 350.4,453.6C350.7,456.2 350.3,458.9 349.5,461.1C348.7,463.3 346.8,466.0 345.7,466.8C344.6,467.6 343.8,467.1 342.9,465.8C341.9,464.6 341.1,461.6 340.0,459.2C338.9,456.9 337.2,454.7 336.2,451.7C335.3,448.7 334.0,443.6 334.4,441.3Z" fill="#66ffff"/>
<path d="M338.1,446.0C338.5,445.1 340.1,444.0 341.0,444.5C341.8,445.0 342.8,447.0 343.4,448.8C344.0,450.7 344.7,454.1 344.7,455.5C344.8,456.8 344.4,457.3 343.8,457.0C343.2,456.7 341.8,454.8 341.0,453.6C340.1,452.4 339.2,451.0 338.7,449.8C338.2,448.5 337.8,446.9 338.1,446.0Z" fill="#3399ff"/>
<path d="M353.2,446.0C353.2,443.8 353.9,440.3 355.1,438.5C356.4,436.6 358.9,435.0 360.8,434.7C362.7,434.4 364.6,434.7 366.5,436.6C368.4,438.5 369.9,443.5 372.1,446.0C374.3,448.5 377.2,449.8 379.7,451.7C382.2,453.6 384.4,455.5 387.3,457.3C390.1,459.2 394.0,460.8 396.7,463.0C399.4,465.2 402.4,468.4 403.3,470.6C404.3,472.8 403.5,474.7 402.4,476.2C401.3,477.8 398.9,479.7 396.7,480.0C394.5,480.3 391.3,479.1 389.1,478.1C386.9,477.2 385.7,475.9 383.5,474.4C381.3,472.8 378.4,470.6 375.9,468.7C373.4,466.8 370.9,465.2 368.4,463.0C365.8,460.8 363.0,457.3 360.8,455.5C358.6,453.6 356.4,453.3 355.1,451.7C353.9,450.1 353.2,448.2 353.2,446.0Z" fill="#66ffff"/>
<path d="M372.1,451.7C372.9,450.7 375.6,450.1 377.8,450.7C380.0,451.4 383.2,453.7 385.4,455.5C387.6,457.2 389.3,459.4 391.0,461.1C392.8,462.9 394.5,464.3 395.8,465.8C397.0,467.4 398.3,469.0 398.6,470.6C398.9,472.1 398.6,474.4 397.6,475.3C396.7,476.2 394.6,476.7 392.9,476.2C391.2,475.8 389.1,474.0 387.3,472.5C385.4,470.9 383.5,468.7 381.6,466.8C379.7,464.9 377.3,462.9 375.9,461.1C374.5,459.4 373.7,458.0 373.1,456.4C372.5,454.8 371.3,452.6 372.1,451.7Z" fill="#3399ff"/>
<path d="M385.4,465.8C385.8,464.7 387.6,462.8 389.1,462.6C390.7,462.5 393.2,463.7 394.8,464.9C396.4,466.1 398.1,468.1 398.6,469.6C399.1,471.2 398.4,473.3 397.6,474.4C396.9,475.4 395.3,476.0 393.9,475.9C392.4,475.7 390.4,474.4 389.1,473.4C387.9,472.4 386.9,470.9 386.3,469.6C385.7,468.4 384.9,467.0 385.4,465.8Z" fill="#0000ff"/>
<path d="M388.2,468.7C388.5,467.6 389.9,466.0 391.0,465.8C392.2,465.7 394.2,466.9 395.2,467.7C396.2,468.6 397.0,469.9 397.1,470.9C397.2,472.0 396.6,473.4 395.8,474.0C394.9,474.5 393.1,474.7 392.0,474.4C390.9,474.0 389.8,473.0 389.1,472.1C388.5,471.1 387.9,469.7 388.2,468.7Z" fill="#00ff00"/>
<path d="M426.0,504.6C426.3,502.1 427.7,500.2 429.8,498.9C431.8,497.6 435.3,497.1 438.3,496.6C441.3,496.2 444.7,496.0 447.7,496.1C450.7,496.1 454.4,495.9 456.2,497.0C458.0,498.1 458.4,500.2 458.7,502.7C459.0,505.2 458.7,509.8 458.1,512.1C457.5,514.5 457.6,515.4 455.3,516.9C452.9,518.3 447.4,520.5 443.9,520.6C440.5,520.8 437.2,518.9 434.5,517.8C431.8,516.7 429.3,516.2 427.9,514.0C426.5,511.8 425.7,507.1 426.0,504.6Z" fill="#66ffff"/>
<path d="M440.0,515.0C441.8,514.8 444.4,516.6 446.7,517.0C448.9,517.4 451.1,517.7 453.3,517.7C455.6,517.7 457.6,517.0 460.0,517.0C462.4,517.0 466.0,517.2 468.0,517.7C470.0,518.1 470.7,518.8 472.0,519.7C473.3,520.6 474.4,521.3 476.0,523.0C477.6,524.7 479.8,527.8 481.3,529.7C482.9,531.6 484.6,533.0 485.3,534.3C486.1,535.7 486.7,536.2 486.0,537.7C485.3,539.1 482.8,541.4 481.3,543.0C479.9,544.6 478.4,546.1 477.3,547.0C476.2,547.9 475.7,548.6 474.7,548.3C473.7,548.1 472.2,546.8 471.3,545.7C470.4,544.6 470.1,542.9 469.3,541.7C468.6,540.4 468.0,539.8 466.7,538.3C465.3,536.9 462.9,534.6 461.3,533.0C459.8,531.4 458.7,530.0 457.3,529.0C456.0,528.0 455.1,527.8 453.3,527.0C451.6,526.2 448.9,525.2 446.7,524.3C444.4,523.4 441.8,522.7 440.0,521.7C438.2,520.7 436.0,519.4 436.0,518.3C436.0,517.2 438.2,515.2 440.0,515.0Z" fill="#66ffff"/>
<path d="M432.6,506.5C433.6,504.7 436.1,502.1 438.3,500.8C440.5,499.5 443.3,499.2 445.8,498.9C448.3,498.6 451.5,498.3 453.4,498.9C455.2,499.5 456.3,500.5 456.8,502.7C457.2,504.9 457.1,509.6 456.2,512.1C455.3,514.7 453.7,516.5 451.5,517.8C449.3,519.1 445.7,520.0 443.0,519.7C440.3,519.4 437.2,517.3 435.4,515.9C433.6,514.5 432.7,512.8 432.2,511.2C431.7,509.6 431.6,508.2 432.6,506.5Z" fill="#3399ff"/>
<path d="M441.1,508.4C441.6,506.8 442.7,504.9 443.9,503.6C445.2,502.4 447.1,501.2 448.7,500.8C450.2,500.4 452.2,500.4 453.4,501.2C454.5,502.0 455.5,503.7 455.6,505.5C455.8,507.3 455.3,510.4 454.3,512.1C453.3,513.9 451.3,515.3 449.6,515.9C447.9,516.5 445.3,516.4 443.9,515.9C442.5,515.4 441.6,514.3 441.1,513.1C440.6,511.8 440.6,509.9 441.1,508.4Z" fill="#0000ff"/>
<path d="M443.0,508.4C443.5,507.1 444.7,505.2 445.8,504.2C446.9,503.2 448.3,502.5 449.6,502.3C450.9,502.1 452.6,502.2 453.4,503.1C454.2,503.9 454.5,505.9 454.3,507.4C454.2,508.9 453.4,511.0 452.4,512.1C451.5,513.3 449.9,514.1 448.7,514.4C447.4,514.7 445.8,514.5 444.9,514.0C443.9,513.6 443.3,512.7 443.0,511.8C442.7,510.8 442.5,509.6 443.0,508.4Z" fill="#00ff00"/>
<path d="M446.7,508.3C446.9,507.2 447.8,504.7 448.7,503.7C449.6,502.7 451.2,502.2 452.0,502.3C452.8,502.4 453.6,503.3 453.7,504.3C453.8,505.3 453.3,507.2 452.7,508.3C452.1,509.4 450.9,510.6 450.0,511.0C449.1,511.4 447.9,511.1 447.3,510.7C446.8,510.2 446.4,509.5 446.7,508.3Z" fill="#00bb00"/>
<path d="M465.3,526.3C465.7,525.7 467.0,524.4 468.0,524.3C469.0,524.2 470.2,524.8 471.3,525.7C472.4,526.6 473.9,528.7 474.7,529.7C475.4,530.7 475.9,531.1 475.7,531.7C475.4,532.3 474.2,533.2 473.3,533.3C472.5,533.4 471.7,532.9 470.7,532.3C469.7,531.7 468.2,530.4 467.3,529.7C466.5,528.9 466.0,528.6 465.7,528.0C465.3,527.4 464.9,526.9 465.3,526.3Z" fill="#3399ff"/>
<path d="M398.6,533.9C399.0,532.4 400.2,530.1 401.4,529.1C402.7,528.2 404.7,527.7 406.1,528.2C407.6,528.7 409.1,530.4 409.9,532.0C410.7,533.5 411.3,536.1 410.9,537.6C410.4,539.2 408.5,540.9 407.1,541.4C405.7,542.0 403.7,541.5 402.4,540.9C401.0,540.2 399.6,538.8 399.0,537.6C398.3,536.5 398.2,535.3 398.6,533.9Z" fill="#66ffff"/>
<path d="M402.0,534.8C402.1,533.8 403.4,532.4 404.3,532.0C405.1,531.6 406.4,531.8 407.1,532.5C407.8,533.3 408.6,535.2 408.4,536.3C408.3,537.4 407.0,538.6 406.1,539.0C405.3,539.3 404.0,538.9 403.3,538.2C402.6,537.5 401.8,535.8 402.0,534.8Z" fill="#3399ff"/>
<path d="M406.1,555.6C406.6,553.5 407.6,550.2 409.0,549.0C410.4,547.7 412.9,547.4 414.6,548.0C416.4,548.7 418.4,550.7 419.4,552.8C420.3,554.8 420.6,558.1 420.3,560.3C420.0,562.5 419.5,565.0 417.5,566.0C415.4,566.9 409.9,566.8 408.0,566.0C406.2,565.2 406.8,563.0 406.5,561.3C406.2,559.5 405.7,557.6 406.1,555.6Z" fill="#66ffff"/>
<path d="M409.0,556.5C409.1,554.5 410.7,552.5 411.8,551.8C412.9,551.1 414.6,551.2 415.6,552.2C416.5,553.1 417.3,555.7 417.5,557.5C417.6,559.3 417.6,562.0 416.5,563.1C415.4,564.2 412.1,565.2 410.9,564.1C409.6,563.0 408.8,558.6 409.0,556.5Z" fill="#3399ff"/>
<path d="M411.4,557.1C411.6,556.0 412.9,554.6 413.7,554.6C414.5,554.6 415.7,556.1 416.0,557.1C416.2,558.1 415.7,560.2 415.2,560.9C414.7,561.6 413.4,561.9 412.8,561.3C412.1,560.6 411.3,558.2 411.4,557.1Z" fill="#0000ff"/>
<path d="M441.1,560.3C441.3,558.6 442.0,556.5 443.0,555.6C443.9,554.6 445.6,554.2 446.8,554.6C447.9,555.1 449.3,556.5 450.0,558.4C450.6,560.3 451.9,564.7 450.5,566.0C449.2,567.2 443.6,566.9 442.0,566.0C440.5,565.0 440.9,562.0 441.1,560.3Z" fill="#66ffff"/>
<path d="M306.0,563.1C306.4,562.2 307.9,560.5 308.8,560.3C309.8,560.2 311.3,561.3 311.7,562.2C312.1,563.1 312.2,565.4 311.3,566.0C310.4,566.6 307.3,566.5 306.4,566.0C305.5,565.5 305.6,564.1 306.0,563.1Z" fill="#66ffff"/>
<path d="M465.1,432.8C465.3,432.2 466.3,431.1 467.0,431.5C467.7,431.8 469.2,433.8 469.4,434.7C469.6,435.5 468.7,436.5 468.1,436.6C467.5,436.6 466.2,435.7 465.7,435.1C465.2,434.4 464.9,433.4 465.1,432.8Z" fill="#66ffff"/>
<path d="M342.3,574.7C343.0,573.7 345.1,572.9 347.6,572.8C350.0,572.8 354.7,573.2 357.0,574.2C359.4,575.2 360.8,576.8 361.7,578.9C362.7,580.9 363.2,584.8 362.7,586.5C362.2,588.1 360.5,588.7 358.9,588.7C357.3,588.7 355.1,587.5 353.2,586.5C351.4,585.4 349.2,583.9 347.6,582.7C345.9,581.4 344.3,580.2 343.4,578.9C342.5,577.6 341.6,575.7 342.3,574.7Z" fill="#66ffff"/>
<path d="M346.1,577.9C346.2,577.1 348.0,575.6 349.5,575.5C351.0,575.3 353.6,576.1 355.1,577.0C356.6,577.9 358.1,579.6 358.5,580.8C359.0,582.0 358.8,583.7 358.0,584.2C357.1,584.7 354.8,584.2 353.2,583.6C351.7,583.0 349.7,581.7 348.5,580.8C347.3,579.8 345.9,578.8 346.1,577.9Z" fill="#3399ff"/>
<path d="M349.1,579.3C349.1,578.5 350.7,577.4 351.7,577.4C352.7,577.3 354.3,578.2 355.1,578.9C356.0,579.6 357.0,581.0 357.0,581.7C357.0,582.4 356.1,583.0 355.1,583.0C354.2,583.1 352.4,582.9 351.4,582.3C350.3,581.7 349.0,580.1 349.1,579.3Z" fill="#0000ff"/>
<path d="M351.0,580.8C351.1,580.3 352.2,579.6 352.9,579.6C353.6,579.6 354.8,580.3 355.1,580.8C355.4,581.2 355.2,582.0 354.8,582.3C354.3,582.5 352.9,582.5 352.3,582.3C351.7,582.0 350.9,581.2 351.0,580.8Z" fill="#00ff00"/>
<path d="M460.9,571.3C461.5,570.4 462.7,569.2 463.8,568.9C464.9,568.6 466.6,568.7 467.5,569.4C468.5,570.2 469.4,572.0 469.4,573.2C469.4,574.5 468.6,576.3 467.5,577.0C466.4,577.7 464.0,577.8 462.8,577.4C461.7,577.0 460.9,575.7 460.6,574.7C460.2,573.7 460.4,572.3 460.9,571.3Z" fill="#66ffff"/>
<path d="M315.5,626.1C315.5,625.0 316.3,623.5 317.0,622.7C317.7,622.0 318.7,621.6 319.6,621.6C320.6,621.6 321.9,622.0 322.6,622.7C323.4,623.5 324.0,625.0 324.0,626.1C324.0,627.3 323.4,628.8 322.6,629.5C321.9,630.3 320.6,630.7 319.6,630.7C318.6,630.7 317.3,630.3 316.6,629.5C315.9,628.8 315.4,627.3 315.5,626.1Z" fill="#66ffff"/>
<path d="M312.1,636.5C312.1,635.8 313.1,635.0 313.6,635.0C314.1,635.0 314.8,635.9 315.1,636.5C315.4,637.2 315.8,638.5 315.5,639.0C315.1,639.4 313.8,639.8 313.2,639.4C312.6,638.9 312.0,637.2 312.1,636.5Z" fill="#66ffff"/>
<path d="M330.2,644.5C330.2,643.3 330.9,641.7 331.7,640.9C332.6,640.0 334.0,639.4 335.3,639.4C336.6,639.4 338.3,640.0 339.3,640.9C340.2,641.7 341.0,643.3 341.0,644.5C341.0,645.6 340.2,647.2 339.3,648.0C338.3,648.9 336.6,649.7 335.3,649.7C334.0,649.7 332.6,648.9 331.7,648.0C330.9,647.2 330.2,645.6 330.2,644.5Z" fill="#66ffff"/>
<path d="M262.6,617.6C262.7,617.2 263.7,616.6 264.1,616.7C264.4,616.8 265.0,617.8 264.8,618.2C264.7,618.6 263.7,619.0 263.3,618.9C262.9,618.9 262.4,618.0 262.6,617.6Z" fill="#66ffff"/>
<path d="M289.0,627.3C289.1,627.0 290.1,626.8 290.5,626.9C291.0,627.0 291.8,627.7 291.7,628.0C291.5,628.3 290.2,628.7 289.8,628.6C289.3,628.5 288.9,627.5 289.0,627.3Z" fill="#66ffff"/>
<path d="M391.4,622.3C392.1,621.2 393.3,620.1 395.8,619.5C398.2,618.9 402.5,619.2 406.1,618.9C409.8,618.7 413.7,618.1 417.5,618.2C421.3,618.3 425.8,618.7 428.8,619.5C431.8,620.4 434.1,621.9 435.4,623.3C436.7,624.7 437.1,626.4 436.7,628.0C436.4,629.6 435.5,631.5 433.5,632.7C431.6,633.9 428.0,634.5 425.0,635.2C422.0,635.9 418.7,636.6 415.6,637.1C412.4,637.5 409.0,638.1 406.1,637.8C403.3,637.6 400.6,636.7 398.6,635.6C396.5,634.4 395.1,632.4 393.9,630.8C392.7,629.3 391.8,627.5 391.4,626.1C391.0,624.7 390.7,623.4 391.4,622.3Z" fill="#66ffff"/>
<path d="M397.1,627.1C397.2,625.3 398.3,624.2 400.5,623.3C402.6,622.3 406.5,621.8 409.9,621.4C413.4,621.0 418.1,620.6 421.3,620.8C424.4,621.1 426.8,621.8 428.8,622.7C430.9,623.7 433.1,625.1 433.5,626.5C434.0,627.9 433.2,629.7 431.6,630.8C430.1,632.0 427.1,632.9 424.1,633.7C421.1,634.5 417.0,635.1 413.7,635.6C410.4,636.0 406.6,636.8 404.3,636.5C401.9,636.2 400.7,635.3 399.5,633.7C398.3,632.1 396.9,628.8 397.1,627.1Z" fill="#3399ff"/>
<path d="M402.4,629.9C402.9,628.9 403.9,627.1 406.1,626.1C408.3,625.1 412.4,624.3 415.6,623.9C418.7,623.4 422.8,622.9 425.0,623.3C427.3,623.7 428.7,625.1 429.2,626.1C429.7,627.2 429.2,628.6 427.9,629.5C426.5,630.5 423.6,631.2 421.3,631.8C418.9,632.4 416.2,633.0 413.7,633.3C411.2,633.6 408.0,633.9 406.1,633.7C404.3,633.5 403.4,632.8 402.7,632.2C402.1,631.5 401.8,630.9 402.4,629.9Z" fill="#0000ff"/>
<path d="M404.3,629.9C404.6,629.0 406.1,627.9 408.0,627.1C409.9,626.3 412.9,625.6 415.6,625.2C418.3,624.8 422.1,624.4 424.1,624.6C426.0,624.8 427.0,625.8 427.3,626.5C427.6,627.2 427.1,628.2 426.0,629.0C424.8,629.7 422.4,630.3 420.3,630.8C418.3,631.4 416.1,631.9 413.7,632.2C411.3,632.5 407.7,632.9 406.1,632.5C404.6,632.2 403.9,630.8 404.3,629.9Z" fill="#00ff00"/>
<path d="M478.8,511.9C479.4,510.9 480.4,509.5 482.6,509.1C484.8,508.6 490.1,508.0 492.0,509.1C493.9,510.2 492.0,514.1 493.9,515.7C495.8,517.2 501.1,516.6 503.3,518.5C505.5,520.4 505.5,524.3 507.1,527.0C508.7,529.7 510.6,532.0 512.8,534.6C515.0,537.1 518.1,539.9 520.3,542.1C522.5,544.3 524.1,546.1 526.0,547.8C527.9,549.5 529.8,551.2 531.7,552.5C533.6,553.8 535.8,554.1 537.3,555.3C538.9,556.6 540.7,558.3 541.1,560.1C541.6,561.8 541.1,564.5 540.2,565.7C539.2,567.0 536.9,567.8 535.5,567.6C534.0,567.5 532.6,566.4 531.7,564.8C530.7,563.2 530.9,559.4 529.8,558.2C528.7,556.9 526.6,556.9 525.1,557.2C523.5,557.5 522.1,558.8 520.3,560.1C518.6,561.3 516.2,563.1 514.7,564.8C513.1,566.5 512.3,568.7 510.9,570.5C509.5,572.2 507.7,575.2 506.2,575.2C504.6,575.2 503.2,572.2 501.5,570.5C499.7,568.7 497.4,567.0 495.8,564.8C494.2,562.6 493.1,560.1 492.0,557.2C490.9,554.4 489.5,551.6 489.2,547.8C488.9,544.0 490.1,539.0 490.1,534.6C490.1,530.2 490.4,524.2 489.2,521.3C487.9,518.5 484.3,518.7 482.6,517.6C480.8,516.5 479.4,515.7 478.8,514.7C478.1,513.8 478.1,512.8 478.8,511.9Z" fill="#66ffff"/>
<path d="M492.9,547.8C493.8,545.1 495.6,540.2 497.7,538.3C499.7,536.5 502.7,536.3 505.2,536.5C507.7,536.6 510.3,538.0 512.8,539.3C515.3,540.5 518.2,542.3 520.3,544.0C522.5,545.7 524.8,547.8 525.6,549.7C526.4,551.6 526.3,553.9 525.1,555.3C523.9,556.8 520.5,557.4 518.5,558.2C516.4,559.0 514.2,558.6 512.8,560.1C511.4,561.5 511.1,565.0 510.0,566.7C508.8,568.3 507.6,569.9 506.2,570.1C504.8,570.2 503.2,569.0 501.5,567.6C499.7,566.3 497.3,564.2 495.8,562.0C494.3,559.8 492.9,556.8 492.4,554.4C491.9,552.0 492.1,550.5 492.9,547.8Z" fill="#3399ff"/>
<path d="M494.8,552.5C495.3,551.2 495.9,549.7 497.7,548.7C499.4,547.8 502.9,547.5 505.2,546.8C507.6,546.2 509.6,545.1 511.8,545.0C514.0,544.8 516.6,545.1 518.5,545.9C520.3,546.7 522.5,548.3 523.2,549.7C523.8,551.1 523.5,553.1 522.2,554.4C521.0,555.7 517.4,556.1 515.6,557.2C513.9,558.3 513.1,559.5 511.8,561.0C510.6,562.5 509.5,565.5 508.1,566.3C506.6,567.1 505.1,566.8 503.3,565.7C501.6,564.7 499.1,561.6 497.7,560.1C496.3,558.5 495.3,557.5 494.8,556.3C494.4,555.0 494.4,553.8 494.8,552.5Z" fill="#0000ff"/>
<path d="M496.2,553.1C496.3,551.5 497.1,550.4 498.6,549.7C500.1,549.0 503.1,549.3 505.2,548.7C507.3,548.2 509.1,546.5 511.3,546.3C513.4,546.1 516.4,546.7 518.1,547.4C519.7,548.1 520.9,549.5 521.3,550.6C521.7,551.7 521.4,552.9 520.3,553.8C519.2,554.8 516.2,555.2 514.7,556.3C513.2,557.4 512.5,559.2 511.3,560.6C510.0,562.0 508.5,564.2 507.1,564.8C505.7,565.4 504.5,565.2 503.0,564.2C501.5,563.3 499.2,561.0 498.0,559.1C496.9,557.3 496.1,554.7 496.2,553.1Z" fill="#00ff00"/>
<path d="M498.6,554.4C498.9,553.2 500.2,552.1 501.5,551.6C502.7,551.0 504.8,550.9 506.2,551.2C507.6,551.5 509.2,552.3 510.0,553.5C510.7,554.6 511.2,556.8 510.9,558.2C510.6,559.6 509.3,561.3 508.1,562.0C506.8,562.6 504.7,562.5 503.3,562.0C502.0,561.4 500.7,560.0 499.9,558.7C499.2,557.5 498.4,555.6 498.6,554.4Z" fill="#00bb00"/>
<path d="M502.4,557.2C502.6,556.4 504.0,555.3 504.9,555.3C505.7,555.3 507.2,556.4 507.5,557.2C507.8,558.0 507.4,559.6 506.7,560.1C506.1,560.5 504.4,560.5 503.7,560.1C503.0,559.6 502.2,558.0 502.4,557.2Z" fill="#008800"/>
<path d="M531.7,559.1C531.8,557.9 533.5,556.5 534.5,556.3C535.5,556.0 536.9,556.8 537.7,557.6C538.5,558.4 539.3,560.0 539.2,561.0C539.2,562.0 538.3,563.4 537.3,563.8C536.4,564.3 534.5,564.6 533.6,563.8C532.6,563.1 531.5,560.4 531.7,559.1Z" fill="#3399ff"/>
<path d="M498.6,580.8C498.8,579.6 500.3,578.6 501.5,578.4C502.6,578.2 504.3,578.8 505.2,579.5C506.1,580.3 506.9,581.6 506.7,582.7C506.6,583.9 505.3,586.0 504.3,586.5C503.2,587.1 501.5,586.9 500.5,585.9C499.6,585.0 498.5,582.1 498.6,580.8Z" fill="#66ffff"/>
<path d="M553.4,578.0C554.0,576.9 555.6,575.3 557.2,575.2C558.8,575.0 561.1,576.0 562.9,577.1C564.6,578.2 566.3,580.4 567.6,581.8C568.8,583.2 570.4,584.5 570.4,585.6C570.4,586.7 569.1,587.9 567.6,588.4C566.0,588.9 563.0,588.9 561.0,588.4C558.9,587.9 556.6,586.7 555.3,585.6C554.0,584.5 553.7,583.1 553.4,581.8C553.1,580.5 552.8,579.1 553.4,578.0Z" fill="#66ffff"/>
<path d="M658.6,586.5C659.2,585.5 660.7,584.3 662.0,584.1C663.4,583.8 665.2,584.2 666.8,585.2C668.3,586.2 670.1,588.3 671.5,590.3C672.8,592.2 674.4,594.7 674.9,596.9C675.4,599.1 674.9,602.3 674.3,603.5C673.8,604.7 672.9,604.7 671.5,604.1C670.1,603.5 667.5,601.4 665.8,599.7C664.1,598.1 662.3,595.6 661.1,594.1C659.9,592.5 659.0,591.6 658.6,590.3C658.2,589.0 658.1,587.6 658.6,586.5Z" fill="#66ffff"/>
<path d="M661.1,590.3C661.1,589.0 662.8,587.7 663.9,587.5C665.0,587.2 666.6,588.0 667.7,589.0C668.8,589.9 669.9,591.8 670.5,593.1C671.2,594.5 671.8,596.1 671.5,596.9C671.2,597.7 669.9,598.2 668.7,597.9C667.4,597.5 665.2,596.3 663.9,595.0C662.7,593.8 661.1,591.6 661.1,590.3Z" fill="#3399ff"/>
<path d="M685.1,608.2C685.4,607.5 686.6,607.1 687.5,607.3C688.5,607.5 690.1,608.3 690.8,609.2C691.4,610.0 691.7,611.6 691.3,612.4C690.9,613.2 689.4,614.0 688.5,613.9C687.5,613.8 686.2,613.0 685.7,612.0C685.1,611.1 684.8,609.0 685.1,608.2Z" fill="#66ffff"/>
<path d="M513.2,649.8C513.5,648.8 515.4,647.6 516.6,647.4C517.7,647.1 519.2,647.6 520.0,648.3C520.8,649.0 521.5,650.4 521.3,651.3C521.1,652.3 519.9,653.6 518.8,654.0C517.7,654.3 515.6,654.3 514.7,653.6C513.7,652.9 512.8,650.8 513.2,649.8Z" fill="#66ffff"/>
<path d="M608.2,664.0C608.5,663.0 610.1,662.1 611.0,662.1C612.0,662.1 613.0,662.9 613.9,664.0C614.7,665.1 616.0,667.3 616.3,668.7C616.6,670.1 616.4,671.8 615.8,672.1C615.1,672.4 613.6,671.3 612.5,670.6C611.4,669.9 609.9,668.9 609.1,667.8C608.4,666.7 607.9,664.9 608.2,664.0Z" fill="#66ffff"/>
<path d="M699.5,613.5C699.9,612.1 701.0,610.7 702.1,610.0C703.3,609.3 704.7,608.8 706.2,609.4C707.8,610.0 709.3,611.5 711.3,613.5C713.4,615.5 716.3,618.8 718.5,621.2C720.7,623.7 723.1,626.5 724.6,628.4C726.1,630.3 727.8,631.2 727.7,632.5C727.5,633.7 725.3,635.9 723.6,635.9C721.9,635.9 719.8,633.7 717.5,632.5C715.1,631.2 711.8,629.9 709.3,628.4C706.7,626.9 703.8,625.0 702.1,623.3C700.5,621.6 699.9,619.8 699.5,618.2C699.0,616.6 699.0,614.9 699.5,613.5Z" fill="#66ffff"/>
<path d="M701.1,616.1C701.4,614.7 703.0,613.2 704.2,612.7C705.4,612.2 706.7,612.0 708.3,613.1C709.8,614.2 711.5,617.2 713.4,619.2C715.2,621.2 718.3,623.8 719.5,625.3C720.7,626.9 721.2,627.8 720.5,628.4C719.8,629.0 717.5,629.5 715.4,629.0C713.4,628.5 710.4,626.6 708.3,625.3C706.2,624.0 703.9,622.8 702.8,621.2C701.6,619.7 700.9,617.6 701.1,616.1Z" fill="#3399ff"/>
<path d="M702.8,617.2C703.1,616.0 704.2,614.4 705.2,614.1C706.2,613.8 707.7,614.2 708.9,615.1C710.1,616.0 711.4,618.1 712.4,619.6C713.3,621.1 714.6,623.3 714.4,624.3C714.2,625.3 712.3,625.9 710.9,625.7C709.6,625.6 707.5,624.1 706.2,623.3C704.9,622.5 703.7,621.9 703.2,620.8C702.6,619.8 702.4,618.3 702.8,617.2Z" fill="#0000ff"/>
<path d="M703.6,618.2C703.6,617.1 704.7,615.7 705.6,615.5C706.5,615.4 707.9,616.2 708.9,617.2C709.9,618.1 711.2,620.1 711.7,621.2C712.3,622.4 712.8,623.8 712.4,624.3C711.9,624.8 710.4,624.7 709.3,624.3C708.2,624.0 706.6,623.3 705.6,622.3C704.7,621.2 703.6,619.3 703.6,618.2Z" fill="#00ff00"/>
<path d="M262.5,752.2C263.1,750.9 264.8,750.6 266.3,750.9C267.7,751.2 269.7,752.8 270.9,754.1C272.2,755.4 272.3,757.3 273.8,758.8C275.2,760.2 277.2,762.8 279.4,762.5C281.6,762.2 284.1,758.3 286.9,756.9C289.7,755.5 292.8,754.5 296.3,754.1C299.7,753.6 304.1,753.4 307.5,754.1C310.9,754.7 314.4,756.3 316.9,757.8C319.4,759.4 321.1,761.6 322.5,763.4C323.9,765.3 324.4,767.0 325.3,769.1C326.3,771.1 326.7,773.9 328.1,775.6C329.5,777.3 331.7,778.1 333.8,779.4C335.8,780.6 338.8,781.3 340.3,783.1C341.9,785.0 343.0,788.3 343.1,790.6C343.3,793.0 342.8,795.9 341.3,797.2C339.7,798.5 336.6,798.2 333.8,798.5C330.9,798.9 327.2,799.0 324.4,799.3C321.6,799.5 320.0,800.0 316.9,800.0C313.8,800.0 308.8,799.7 305.6,799.1C302.5,798.4 300.6,797.4 298.1,796.3C295.6,795.2 292.7,794.1 290.6,792.5C288.6,790.9 287.2,789.1 285.9,786.9C284.7,784.7 283.6,781.9 283.1,779.4C282.7,776.9 284.1,774.1 283.1,771.9C282.2,769.7 279.4,768.1 277.5,766.3C275.6,764.4 273.8,761.9 271.9,760.6C270.0,759.4 267.8,759.1 266.3,758.8C264.7,758.4 263.1,759.8 262.5,758.8C261.9,757.7 261.9,753.5 262.5,752.2Z" fill="#66ffff"/>
<path d="M286.9,768.1C287.7,765.3 288.4,762.5 290.6,760.6C292.8,758.8 296.6,757.3 300.0,756.9C303.4,756.4 308.1,756.9 311.3,757.8C314.4,758.8 317.2,760.5 318.8,762.5C320.3,764.5 320.5,767.8 320.6,770.0C320.8,772.2 318.8,774.1 319.7,775.6C320.6,777.2 324.2,777.8 326.3,779.4C328.3,780.9 330.8,783.4 331.9,785.0C333.0,786.6 333.8,787.8 332.8,788.8C331.9,789.7 328.9,790.3 326.3,790.6C323.6,790.9 319.7,791.6 316.9,790.6C314.1,789.7 311.3,785.6 309.4,785.0C307.5,784.4 306.6,785.6 305.6,786.9C304.7,788.1 304.7,791.4 303.8,792.5C302.8,793.6 301.9,793.8 300.0,793.4C298.1,793.1 294.5,792.0 292.5,790.6C290.5,789.2 288.9,787.2 287.8,785.0C286.7,782.8 286.1,780.3 285.9,777.5C285.8,774.7 286.1,770.9 286.9,768.1Z" fill="#3399ff"/>
<path d="M297.2,774.7C297.9,773.8 300.0,773.3 301.9,773.8C303.8,774.2 307.2,775.8 308.4,777.5C309.7,779.2 309.8,782.5 309.4,784.1C308.9,785.6 307.0,786.9 305.6,786.9C304.2,786.9 302.3,785.3 300.9,784.1C299.6,782.8 298.4,780.9 297.8,779.4C297.1,777.8 296.5,775.6 297.2,774.7Z" fill="#66ffff"/>
<path d="M295.3,764.4C295.6,762.8 296.6,760.7 298.1,759.7C299.7,758.7 302.3,758.2 304.7,758.4C307.0,758.5 310.3,759.5 312.2,760.6C314.1,761.8 315.5,763.8 315.9,765.3C316.4,766.9 316.1,768.8 315.0,770.0C313.9,771.2 311.6,771.9 309.4,772.3C307.2,772.6 304.0,772.4 301.9,771.9C299.8,771.3 297.7,770.3 296.6,769.1C295.5,767.8 295.1,765.9 295.3,764.4Z" fill="#0000ff"/>
<path d="M296.6,764.8C296.9,763.6 298.3,761.8 299.6,761.0C301.0,760.2 302.8,759.5 304.7,759.7C306.6,759.8 309.6,760.9 311.3,761.9C312.9,763.0 314.3,764.6 314.6,765.9C315.0,767.2 314.5,768.7 313.5,769.6C312.5,770.6 310.4,771.3 308.4,771.5C306.5,771.7 303.7,771.5 301.9,770.9C300.1,770.4 298.6,769.2 297.8,768.1C296.9,767.1 296.3,765.9 296.6,764.8Z" fill="#00ff00"/>
<path d="M300.0,765.3C300.2,764.3 301.6,763.0 302.8,762.5C304.1,762.0 306.1,762.0 307.5,762.5C308.9,763.0 310.8,764.3 311.3,765.3C311.7,766.3 311.3,767.8 310.3,768.5C309.4,769.2 307.1,769.6 305.6,769.6C304.2,769.6 302.4,769.2 301.5,768.5C300.6,767.8 299.8,766.3 300.0,765.3Z" fill="#00bb00"/>
<path d="M302.8,765.3C302.9,764.7 304.3,763.9 305.3,763.8C306.2,763.7 308.0,764.2 308.4,764.8C308.9,765.3 308.7,766.7 308.1,767.2C307.4,767.7 305.6,768.1 304.7,767.8C303.8,767.4 302.7,766.0 302.8,765.3Z" fill="#008800"/>
<path d="M290.3,783.1C290.5,782.3 291.5,781.0 292.5,780.9C293.5,780.7 295.2,781.2 296.3,782.2C297.3,783.2 298.9,785.6 299.1,786.9C299.2,788.1 298.0,789.4 297.2,789.7C296.3,790.0 295.0,789.4 294.0,788.8C293.0,788.1 291.6,786.9 291.0,785.9C290.4,785.0 290.0,784.0 290.3,783.1Z" fill="#0000ff"/>
<path d="M293.4,785.0C293.5,784.5 294.5,783.6 294.9,783.7C295.4,783.8 296.3,784.9 296.3,785.4C296.2,785.9 295.2,786.9 294.8,786.9C294.3,786.8 293.4,785.5 293.4,785.0Z" fill="#00ff00"/>
<path d="M339.4,771.9C339.8,769.5 341.4,766.9 343.1,765.3C344.8,763.8 347.8,762.3 349.7,762.5C351.6,762.7 352.8,764.8 354.4,766.3C355.9,767.7 356.9,769.4 359.1,770.9C361.3,772.5 364.5,773.9 367.5,775.6C370.5,777.3 374.7,779.1 376.9,781.3C379.1,783.4 379.4,785.9 380.6,788.8C381.9,791.6 383.1,795.0 384.4,798.1C385.6,801.3 387.0,803.9 388.1,807.5C389.2,811.1 398.4,817.7 390.9,819.7C383.4,821.7 351.4,821.1 343.1,819.7C334.8,818.3 341.9,814.5 341.3,811.3C340.6,808.0 339.4,804.1 339.4,800.0C339.4,795.9 341.1,790.3 341.3,786.9C341.4,783.4 340.6,781.9 340.3,779.4C340.0,776.9 338.9,774.2 339.4,771.9Z" fill="#66ffff"/>
<path d="M343.1,785.0C343.6,780.9 343.8,777.7 345.0,775.6C346.3,773.6 348.6,772.8 350.6,772.8C352.7,772.8 354.4,774.4 357.2,775.6C360.0,776.9 364.9,778.8 367.5,780.3C370.2,781.9 371.6,783.0 373.1,785.0C374.7,787.0 375.8,789.7 376.9,792.5C378.0,795.3 378.4,799.1 379.7,801.9C380.9,804.7 383.1,806.4 384.4,809.4C385.6,812.4 393.4,818.0 387.2,819.7C380.9,821.4 354.2,821.1 346.9,819.7C339.5,818.3 343.9,814.5 343.1,811.3C342.3,808.0 342.2,804.4 342.2,800.0C342.2,795.6 342.7,789.1 343.1,785.0Z" fill="#3399ff"/>
<path d="M345.9,790.6C346.4,788.0 347.3,783.8 348.8,782.2C350.2,780.6 352.2,780.8 354.4,781.3C356.6,781.7 359.5,783.9 361.9,785.0C364.2,786.1 366.7,786.3 368.4,787.8C370.2,789.4 371.1,791.7 372.2,794.4C373.3,797.0 373.6,801.6 375.0,803.8C376.4,805.9 379.1,805.9 380.6,807.5C382.2,809.1 383.8,811.3 384.4,813.1C384.9,815.0 385.6,817.8 384.0,818.8C382.4,819.7 378.1,819.7 375.0,818.8C371.9,817.8 368.6,814.7 365.6,813.1C362.7,811.6 360.0,810.6 357.2,809.4C354.4,808.1 350.6,807.5 348.8,805.6C346.9,803.8 346.4,800.6 345.9,798.1C345.5,795.6 345.5,793.3 345.9,790.6Z" fill="#0000ff"/>
<path d="M346.9,791.6C347.3,789.2 348.4,785.5 349.7,784.1C350.9,782.7 352.4,782.7 354.4,783.1C356.4,783.5 359.3,785.4 361.5,786.5C363.7,787.6 365.9,788.1 367.5,789.7C369.1,791.3 369.9,793.8 370.9,796.3C371.9,798.8 372.0,802.6 373.5,804.7C375.0,806.8 378.2,807.6 379.7,809.0C381.2,810.4 382.2,811.7 382.5,813.1C382.8,814.6 382.8,817.1 381.6,817.8C380.3,818.5 377.7,818.2 375.0,817.3C372.4,816.3 368.6,813.8 365.6,812.2C362.7,810.6 359.9,808.9 357.2,807.5C354.5,806.1 351.3,805.3 349.7,803.8C348.0,802.2 347.7,800.2 347.3,798.1C346.8,796.1 346.5,793.9 346.9,791.6Z" fill="#00ff00"/>
<path d="M348.8,793.4C349.1,791.4 350.2,788.1 351.6,786.9C353.0,785.6 355.2,785.3 357.2,785.9C359.2,786.6 362.0,788.9 363.8,790.6C365.5,792.4 366.7,794.1 367.5,796.3C368.3,798.4 368.8,802.2 368.4,803.8C368.1,805.3 367.2,805.4 365.6,805.6C364.1,805.9 361.3,805.7 359.1,805.3C356.9,804.8 354.1,803.9 352.5,802.8C350.9,801.8 349.9,800.6 349.3,799.1C348.7,797.5 348.4,795.5 348.8,793.4Z" fill="#00bb00"/>
<path d="M371.3,807.5C372.4,807.0 375.3,808.4 376.9,809.4C378.4,810.3 380.2,811.9 380.6,813.1C381.1,814.3 380.6,816.0 379.7,816.5C378.8,817.0 376.6,816.7 375.0,815.9C373.4,815.2 370.9,813.6 370.3,812.2C369.7,810.8 370.2,808.0 371.3,807.5Z" fill="#00bb00"/>
<path d="M350.6,796.3C350.8,794.4 352.0,792.4 353.4,791.6C354.8,790.8 357.4,790.9 359.1,791.6C360.8,792.2 362.7,793.8 363.8,795.3C364.8,796.9 365.4,799.4 365.3,800.9C365.1,802.5 364.0,804.0 362.8,804.7C361.6,805.4 359.9,805.6 358.1,805.3C356.4,804.9 353.8,804.3 352.5,802.8C351.3,801.3 350.5,798.1 350.6,796.3Z" fill="#ffff00"/>
<path d="M354.4,797.2C354.7,796.4 356.3,795.5 357.2,795.3C358.1,795.2 359.4,795.6 360.0,796.3C360.6,796.9 361.3,798.3 360.9,799.1C360.6,799.9 359.1,800.8 358.1,800.9C357.2,801.1 355.9,800.6 355.3,800.0C354.7,799.4 354.1,798.0 354.4,797.2Z" fill="#ffcc00"/>
<path d="M369.4,754.1C369.8,752.0 370.8,750.2 372.2,748.4C373.6,746.7 376.9,745.5 377.8,743.8C378.8,742.0 376.7,739.8 377.8,738.1C378.9,736.4 381.9,734.4 384.4,733.4C386.9,732.5 390.5,732.2 392.8,732.5C395.2,732.8 397.3,734.1 398.4,735.3C399.6,736.6 399.8,738.4 399.8,740.0C399.8,741.6 400.1,743.8 398.4,744.7C396.8,745.6 392.0,744.8 390.0,745.6C388.0,746.4 386.7,747.2 386.3,749.4C385.8,751.6 387.4,756.3 387.2,758.8C387.0,761.3 386.6,763.0 385.3,764.4C384.1,765.8 381.7,767.0 379.7,767.2C377.7,767.3 374.8,766.4 373.1,765.3C371.5,764.2 370.4,762.5 369.8,760.6C369.1,758.8 369.0,756.1 369.4,754.1Z" fill="#66ffff"/>
<path d="M375.0,755.0C375.5,753.9 376.6,752.4 377.8,752.2C379.1,751.9 381.5,752.6 382.5,753.5C383.5,754.4 384.1,756.6 384.0,757.8C383.9,759.1 383.2,760.4 382.1,761.0C381.1,761.6 379.0,761.9 377.8,761.6C376.6,761.2 375.5,759.8 375.0,758.8C374.5,757.7 374.5,756.1 375.0,755.0Z" fill="#3399ff"/>
<path d="M409.7,796.3C410.1,795.4 411.1,794.1 412.5,793.8C413.9,793.5 416.3,793.5 418.1,794.4C420.0,795.3 422.2,797.4 423.8,799.1C425.3,800.8 426.7,802.8 427.5,804.7C428.3,806.6 428.9,808.6 428.4,810.3C428.0,812.0 426.1,813.8 424.7,815.0C423.3,816.3 421.4,818.0 420.0,817.8C418.7,817.7 417.4,815.8 416.6,814.1C415.9,812.4 415.9,809.5 415.3,807.5C414.8,805.5 414.3,803.3 413.4,801.9C412.6,800.5 410.9,800.0 410.3,799.1C409.6,798.1 409.3,797.1 409.7,796.3Z" fill="#66ffff"/>
<path d="M262.5,734.0C262.8,733.7 264.5,733.8 265.3,734.0C266.1,734.2 267.5,735.0 267.2,735.3C266.9,735.6 264.2,736.1 263.4,735.9C262.7,735.7 262.2,734.3 262.5,734.0Z" fill="#66ffff"/>
<path d="M261.7,776.4C262.5,769.3 264.7,777.7 266.4,778.7C268.0,779.6 269.9,781.1 271.6,782.1C273.2,783.2 274.7,784.2 276.2,785.0C277.6,785.8 278.8,785.8 280.2,787.1C281.7,788.3 283.7,790.8 284.9,792.5C286.0,794.3 286.3,796.1 287.2,797.7C288.0,799.4 288.8,800.6 290.1,802.4C291.3,804.1 293.3,806.4 294.7,808.2C296.0,809.9 297.3,811.4 298.2,812.8C299.0,814.1 299.5,814.9 299.9,816.2C300.2,817.6 306.5,820.1 300.2,820.9C293.8,821.6 268.1,828.3 261.7,820.9C255.3,813.4 261.0,783.4 261.7,776.4Z" fill="#66ffff"/>
<path d="M261.7,780.7C262.4,774.6 264.4,783.3 265.8,784.5C267.1,785.6 268.4,786.7 269.8,787.3C271.3,788.0 273.0,788.2 274.5,788.5C275.9,788.8 277.3,788.5 278.5,789.1C279.7,789.7 280.5,790.8 281.4,792.0C282.3,793.1 283.0,794.5 283.7,796.0C284.4,797.6 284.6,799.6 285.4,801.2C286.3,802.9 287.7,804.3 288.9,805.8C290.1,807.4 291.4,808.9 292.4,810.5C293.3,812.0 294.2,813.4 294.7,815.1C295.2,816.8 300.8,819.9 295.3,820.9C289.8,821.8 267.3,827.6 261.7,820.9C256.1,814.2 261.1,786.8 261.7,780.7Z" fill="#3399ff"/>
<path d="M261.7,788.2C262.4,783.2 264.4,790.2 265.8,790.8C267.1,791.4 268.5,791.8 269.8,791.7C271.2,791.6 272.4,790.4 273.9,790.2C275.3,790.1 277.2,790.0 278.5,790.8C279.7,791.6 280.7,793.4 281.4,794.9C282.1,796.3 282.0,797.9 282.5,799.5C283.1,801.0 284.0,802.5 284.9,804.1C285.7,805.7 286.9,807.7 287.7,809.3C288.6,810.9 289.5,812.0 290.1,813.9C290.6,815.9 295.9,819.7 291.2,820.9C286.5,822.0 266.6,826.3 261.7,820.9C256.8,815.4 261.1,793.2 261.7,788.2Z" fill="#0000ff"/>
<path d="M261.7,791.1C262.6,786.3 265.3,791.9 266.9,792.0C268.6,792.1 270.1,791.9 271.6,791.7C273.0,791.5 274.5,790.8 275.6,790.8C276.8,790.9 277.8,791.2 278.5,792.0C279.2,792.7 279.6,794.1 279.9,795.4C280.3,796.8 280.3,798.5 280.8,800.1C281.3,801.6 282.3,802.9 283.1,804.7C284.0,806.4 285.1,808.6 286.0,810.5C286.9,812.3 287.7,813.9 288.3,815.7C288.9,817.4 293.9,820.0 289.5,820.9C285.0,821.7 266.4,825.8 261.7,820.9C257.1,815.9 260.9,795.9 261.7,791.1Z" fill="#00ff00"/>
<path d="M261.7,794.0C262.8,789.6 266.3,794.3 268.1,794.3C269.9,794.2 271.4,793.6 272.7,793.7C274.1,793.8 275.3,794.1 276.2,794.9C277.1,795.6 277.4,797.0 277.9,798.3C278.4,799.7 278.5,801.4 279.1,802.9C279.7,804.5 280.5,805.8 281.4,807.6C282.3,809.3 283.5,811.1 284.3,813.4C285.0,815.6 289.8,819.6 286.0,820.9C282.3,822.1 265.8,825.3 261.7,820.9C257.7,816.4 260.7,798.4 261.7,794.0Z" fill="#00bb00"/>
<path d="M261.7,796.3C262.8,792.3 266.3,796.8 268.1,796.9C269.9,796.9 271.5,796.3 272.7,796.6C273.9,796.8 274.6,797.4 275.3,798.3C276.0,799.3 276.2,800.9 276.8,802.4C277.3,803.8 277.7,805.3 278.5,807.0C279.3,808.7 280.6,810.5 281.4,812.8C282.2,815.1 286.4,819.5 283.1,820.9C279.8,822.2 265.3,825.0 261.7,820.9C258.2,816.8 260.7,800.3 261.7,796.3Z" fill="#008800"/>
<path d="M261.7,798.0C262.6,794.3 265.3,798.3 266.9,798.3C268.6,798.4 270.4,798.0 271.6,798.3C272.7,798.6 273.2,799.1 273.9,800.1C274.5,801.0 274.7,802.6 275.3,804.1C275.9,805.6 276.6,807.5 277.3,809.3C278.1,811.1 279.0,813.2 279.7,815.1C280.3,817.0 284.1,819.9 281.1,820.9C278.1,821.8 265.0,824.7 261.7,820.9C258.5,817.1 260.9,801.8 261.7,798.0Z" fill="#ffff00"/>
<path d="M261.7,800.3C262.6,797.0 265.4,800.5 266.9,800.6C268.5,800.8 270.0,800.6 271.0,801.2C272.0,801.8 272.4,802.9 273.0,804.1C273.6,805.3 273.9,806.6 274.5,808.2C275.0,809.7 275.8,811.2 276.5,813.4C277.1,815.5 280.7,819.6 278.2,820.9C275.8,822.1 264.5,824.3 261.7,820.9C259.0,817.4 260.9,803.7 261.7,800.3Z" fill="#ffcc00"/>
<path d="M263.5,805.8C263.9,804.2 265.3,804.3 266.4,804.1C267.4,803.9 268.8,804.1 269.8,804.7C270.9,805.3 271.8,806.4 272.7,807.6C273.6,808.7 274.3,810.3 275.0,811.6C275.8,813.0 276.7,814.1 277.3,815.7C278.0,817.2 280.4,820.0 279.1,820.9C277.7,821.7 271.5,821.5 269.2,820.9C267.0,820.2 266.7,818.0 265.8,816.8C264.8,815.7 263.9,815.8 263.5,813.9C263.1,812.1 263.0,807.5 263.5,805.8Z" fill="#ff6600"/>
<path d="M266.9,810.5C267.1,810.0 267.8,809.1 268.4,809.0C269.0,808.9 269.7,809.3 270.4,809.9C271.1,810.5 272.2,812.0 272.7,812.8C273.2,813.5 273.5,814.2 273.3,814.5C273.1,814.8 272.2,815.0 271.6,814.8C270.9,814.6 269.9,813.8 269.2,813.4C268.6,812.9 267.9,812.4 267.5,811.9C267.1,811.4 266.8,810.9 266.9,810.5Z" fill="#ff0000"/>
<path d="M261.7,812.8C262.1,811.9 263.4,814.7 264.0,815.7C264.7,816.6 265.3,817.7 265.8,818.6C266.3,819.4 267.6,820.5 266.9,820.9C266.3,821.3 262.6,822.2 261.7,820.9C260.9,819.5 261.3,813.6 261.7,812.8Z" fill="#ffff00"/>
<path d="M261.7,815.7C262.0,815.1 262.9,816.8 263.5,817.4C264.0,818.0 264.6,818.8 264.9,819.4C265.3,820.0 266.0,820.6 265.5,820.9C265.0,821.1 262.4,821.7 261.7,820.9C261.1,820.0 261.4,816.2 261.7,815.7Z" fill="#00ff00"/>
<path d="M261.7,817.4C262.0,817.1 262.8,818.3 263.2,818.8C263.6,819.4 264.3,820.5 264.0,820.9C263.8,821.2 262.1,821.4 261.7,820.9C261.3,820.3 261.5,817.7 261.7,817.4Z" fill="#3399ff"/>
<path d="M549.6,745.6C549.8,744.2 551.5,742.8 552.8,742.4C554.1,742.1 555.9,742.1 557.5,743.4C559.1,744.7 560.6,748.4 562.2,750.3C563.8,752.3 565.2,753.3 566.9,755.0C568.6,756.7 570.8,758.8 572.5,760.6C574.2,762.5 575.8,764.1 577.2,766.3C578.6,768.4 580.1,771.5 580.9,773.8C581.8,776.0 582.6,778.3 582.3,779.8C581.9,781.3 580.7,782.4 579.1,782.8C577.4,783.1 574.8,782.4 572.5,781.6C570.2,780.9 567.5,779.6 565.0,778.4C562.5,777.3 559.7,775.9 557.5,774.7C555.3,773.4 553.1,772.4 551.9,770.9C550.6,769.5 550.0,767.7 550.0,766.3C550.0,764.8 550.6,763.8 551.9,762.5C553.1,761.3 556.9,760.0 557.5,758.8C558.1,757.5 556.6,756.3 555.6,755.0C554.7,753.8 552.9,752.8 551.9,751.3C550.9,749.7 549.5,747.1 549.6,745.6Z" fill="#66ffff"/>
<path d="M553.8,767.2C554.1,765.6 555.9,763.8 557.5,762.5C559.1,761.3 561.1,759.8 563.1,759.7C565.2,759.5 567.8,760.5 569.7,761.6C571.6,762.7 573.0,764.5 574.4,766.3C575.8,768.0 577.4,770.0 578.1,771.9C578.9,773.8 579.5,776.3 579.1,777.5C578.6,778.8 577.0,779.4 575.3,779.4C573.6,779.4 571.1,778.3 568.8,777.5C566.4,776.7 563.4,775.6 561.3,774.7C559.1,773.8 556.9,773.1 555.6,771.9C554.4,770.6 553.4,768.8 553.8,767.2Z" fill="#3399ff"/>
<path d="M557.5,768.1C557.7,766.9 558.9,765.3 560.3,764.4C561.7,763.5 564.1,762.7 565.9,762.9C567.8,763.0 570.1,764.1 571.6,765.3C573.0,766.5 574.3,768.4 574.8,770.0C575.2,771.6 575.2,773.6 574.4,774.7C573.5,775.8 571.4,776.6 569.7,776.6C568.0,776.6 565.8,775.5 564.1,774.7C562.3,773.9 560.5,773.0 559.4,771.9C558.3,770.8 557.3,769.4 557.5,768.1Z" fill="#0000ff"/>
<path d="M559.0,768.1C559.3,767.2 560.4,765.9 561.6,765.3C562.9,764.7 564.9,764.1 566.5,764.4C568.1,764.7 569.8,766.1 571.0,767.2C572.2,768.3 573.2,769.8 573.4,770.9C573.7,772.1 573.3,773.4 572.5,774.1C571.7,774.9 570.3,775.4 568.8,775.3C567.2,775.1 564.6,774.1 563.1,773.4C561.6,772.7 560.4,771.8 559.8,770.9C559.1,770.1 558.7,769.1 559.0,768.1Z" fill="#00ff00"/>
<path d="M562.2,767.2C562.5,766.4 564.0,765.8 565.0,765.9C566.0,766.0 567.8,766.9 568.4,767.8C569.0,768.6 569.2,770.2 568.8,770.9C568.3,771.7 566.9,772.3 565.9,772.3C565.0,772.3 563.8,771.8 563.1,770.9C562.5,770.1 561.9,768.0 562.2,767.2Z" fill="#00bb00"/>
<path d="M554.7,748.4C555.0,747.9 555.9,747.0 556.6,747.1C557.2,747.3 558.4,748.7 558.4,749.4C558.4,750.1 557.2,751.1 556.6,751.3C555.9,751.4 555.0,750.8 554.7,750.3C554.4,749.8 554.4,749.0 554.7,748.4Z" fill="#3399ff"/>
<path d="M670.9,699.7C671.3,699.1 672.4,699.7 673.8,700.6C675.2,701.6 677.5,703.6 679.4,705.3C681.3,707.0 684.1,709.4 685.0,710.9C686.0,712.5 685.6,713.9 685.0,714.7C684.4,715.5 682.7,716.4 681.3,715.6C679.9,714.8 678.1,711.9 676.6,710.0C675.0,708.1 672.8,706.1 671.9,704.4C670.9,702.7 670.6,700.3 670.9,699.7Z" fill="#66ffff"/>
<path d="M660.3,717.5C660.5,716.3 661.4,715.1 662.5,714.7C663.7,714.3 665.8,714.3 667.2,715.3C668.6,716.2 670.2,718.7 670.9,720.3C671.7,721.9 672.2,723.8 671.9,725.0C671.6,726.2 670.3,727.2 669.1,727.4C667.9,727.7 666.1,727.4 664.8,726.5C663.4,725.6 661.8,723.7 661.0,722.2C660.3,720.7 660.0,718.8 660.3,717.5Z" fill="#66ffff"/>
<path d="M653.5,748.4C653.6,747.3 654.8,746.3 655.9,746.0C657.1,745.8 659.2,746.1 660.6,746.9C662.0,747.8 663.8,749.6 664.4,750.9C664.9,752.2 664.8,753.9 664.0,754.6C663.2,755.4 661.1,755.7 659.7,755.4C658.3,755.1 656.4,753.9 655.4,752.8C654.4,751.6 653.4,749.6 653.5,748.4Z" fill="#66ffff"/>
<path d="M654.6,807.5C654.9,806.6 655.9,805.9 656.9,806.0C657.9,806.2 659.4,807.3 660.6,808.4C661.9,809.6 663.5,810.9 664.4,813.1C665.3,815.3 666.5,820.2 665.9,821.6C665.3,823.0 662.0,822.7 660.6,821.6C659.3,820.5 658.8,816.7 657.8,815.0C656.9,813.3 655.5,812.5 655.0,811.3C654.5,810.0 654.3,808.4 654.6,807.5Z" fill="#66ffff"/></g>
<g id="grid"><line x1="301.31" y1="79.25" x2="301.31" y2="820.5" class="g"/>
<line x1="359.14" y1="79.25" x2="359.14" y2="820.5" class="g"/>
<line x1="416.98" y1="79.25" x2="416.98" y2="820.5" class="g"/>
<line x1="474.81" y1="79.25" x2="474.81" y2="820.5" class="g"/>
<line x1="532.65" y1="79.25" x2="532.65" y2="820.5" class="g"/>
<line x1="590.49" y1="79.25" x2="590.49" y2="820.5" class="g"/>
<line x1="648.32" y1="79.25" x2="648.32" y2="820.5" class="g"/>
<line x1="706.16" y1="79.25" x2="706.16" y2="820.5" class="g"/>
<line x1="763.99" y1="79.25" x2="763.99" y2="820.5" class="g"/>
<line x1="821.83" y1="79.25" x2="821.83" y2="820.5" class="g"/>
<line x1="879.66" y1="79.25" x2="879.66" y2="820.5" class="g"/>
<line x1="262.75" y1="124.17" x2="937.5" y2="124.17" class="gh"/>
<line x1="262.75" y1="191.56" x2="937.5" y2="191.56" class="gh"/>
<line x1="262.75" y1="258.95" x2="937.5" y2="258.95" class="gh"/>
<line x1="262.75" y1="326.33" x2="937.5" y2="326.33" class="gh"/>
<line x1="262.75" y1="393.72" x2="937.5" y2="393.72" class="gh"/>
<line x1="262.75" y1="461.11" x2="937.5" y2="461.11" class="gh"/>
<line x1="262.75" y1="528.49" x2="937.5" y2="528.49" class="gh"/>
<line x1="262.75" y1="595.88" x2="937.5" y2="595.88" class="gh"/>
<line x1="262.75" y1="663.27" x2="937.5" y2="663.27" class="gh"/>
<line x1="262.75" y1="730.65" x2="937.5" y2="730.65" class="gh"/>
<line x1="262.75" y1="798.04" x2="937.5" y2="798.04" class="gh"/></g>
<g id="coast" clip-path="url(#mc)"><path d="M278.0,79.7 285.2,91.6 295.1,101.5 300.0,111.8 303.7,121.9 322.3,129.8" class="co"/>
<path d="M322.3,129.8 325.3,120.3 331.5,109.0 334.4,102.4 345.3,100.1 353.2,105.2 358.5,110.0 368.4,115.2 387.3,119.4 398.6,123.7 416.5,132.6 473.2,159.5" class="co"/>
<path d="M326.4,79.7 334.4,86.0 349.1,92.9 353.2,99.2 360.8,106.7 370.6,110.0 391.0,113.7 400.9,118.1 409.0,124.1 419.4,125.1 432.6,125.6 443.0,128.8 457.5,135.5 470.4,135.8 480.0,139.6" class="co"/>
<path d="M449.6,101.5 456.2,109.6 447.7,113.7Z" class="co"/>
<path d="M322.3,129.8 325.7,139.2 317.9,135.8 310.7,141.5 316.4,146.8 322.4,155.9 317.3,163.4 307.5,161.5 298.8,165.3 291.8,160.0 278.0,171.7 293.7,178.9 308.8,191.2 318.3,189.3 325.8,195.0 327.7,207.3 327.7,220.5 324.9,232.8 332.5,229.9 330.2,239.0 319.2,244.7" class="co"/>
<path d="M490.1,79.7 495.8,88.2 499.2,98.6 498.0,108.1 498.6,116.6 496.7,126.0 493.9,131.7 488.2,137.3 480.7,139.2 475.0,138.3" class="co"/>
<path d="M473.1,159.1 486.3,150.6 499.6,141.1 512.8,132.6 519.4,129.8 525.1,133.6 529.8,135.5 538.3,135.5 545.8,141.1 554.4,145.8 561.9,154.4 569.5,157.8 579.9,147.7 583.6,158.1 588.4,165.7 605.4,173.2 608.2,182.7 610.7,195.3 622.4,195.3 630.9,199.7 639.4,195.5 647.9,199.7 662.0,211.4 671.5,209.5 680.9,205.4 689.4,199.7 700.0,197.4" class="co"/>
<path d="M673.4,79.7 674.3,90.1 677.2,107.1 682.8,120.3 688.5,131.7 695.1,146.8 700.0,155.3" class="co"/>
<path d="M695.0,146.5 699.1,152.2 703.2,163.2 713.0,161.8 716.4,163.8 721.5,171.0 724.6,179.1 728.7,191.8 724.6,184.2 723.6,197.5 720.5,207.3 728.7,203.6 733.8,211.4 735.8,224.0 744.0,246.5" class="co"/>
<path d="M694.0,198.7 707.2,193.4 715.0,187.3 712.4,162.4" class="co"/>
<path d="M328.7,240.0 321.1,242.8 313.9,249.1 303.7,251.7 300.3,261.2 305.1,271.7 300.3,279.3 293.7,285.3 288.1,293.5 293.7,301.4 291.5,313.7 293.7,326.0 299.4,334.5 305.1,353.4 330.6,393.0 348.5,401.2 359.9,401.2 379.7,404.9 390.1,410.0" class="co"/>
<path d="M399.5,309.5 406.1,313.7 417.5,331.6 425.0,335.0 435.4,333.1 441.1,341.1 451.5,343.5 456.2,351.5 464.7,355.2 470.4,363.7 480.8,370.4" class="co"/>
<path d="M406.1,313.7 411.8,351.5 420.3,357.1 430.7,373.2 439.2,377.0 449.6,379.8 456.2,385.5 468.5,385.5 469.4,400.6 471.3,411.0" class="co"/>
<path d="M421.3,343.5 431.6,344.9 437.3,353.0 427.3,355.6 420.5,349.6Z" class="co"/>
<path d="M474.1,366.2 486.3,373.2 497.7,375.7 488.6,379.4 498.6,377.5 505.2,383.6 507.1,395.3 514.7,401.5 521.3,411.0" class="co"/>
<path d="M741.5,240.0 743.0,244.1 748.1,252.2 751.1,261.4 756.2,269.6 759.9,279.8 784.8,318.6 793.0,325.7 817.5,364.5 824.6,371.3 834.9,369.2 837.9,378.8 859.4,411.5" class="co"/>
<path d="M334.4,395.0 348.5,401.0 359.9,401.0 379.7,404.4 390.1,409.2 402.4,419.6 428.8,460.2 437.3,464.9 443.9,445.1 452.4,441.3 454.9,429.4 464.7,430.5" class="co"/>
<path d="M450.0,380.0 456.2,385.4 468.3,385.4 468.3,399.2 471.7,411.7 481.7,409.2 475.0,415.4 465.0,430.8 454.6,429.2" class="co"/>
<path d="M502.1,380.0 506.2,383.3 507.5,395.4 514.2,400.8 524.6,416.7 525.0,431.2 519.6,438.8 517.9,451.2 522.5,455.0" class="co"/>
<path d="M520.0,439.4 518.1,451.3 524.5,457.3 529.8,465.8 535.5,470.6 544.0,479.1 554.4,477.2 562.9,479.1 573.2,482.9 590.2,486.6 610.1,494.8 620.5,511.2 631.8,513.6 645.0,519.7 658.3,525.0 672.4,536.7 677.2,545.2 684.7,549.0 692.3,555.6 700.8,566.0" class="co"/>
<path d="M846.1,391.9 869.6,426.6 877.7,431.3 880.8,440.9 886.5,449.1 895.1,453.2 915.1,457.3 920.6,465.4 936.9,478.3" class="co"/>
<path d="M923.3,468.1 920.6,470.9 917.5,480.7 908.4,484.8 895.1,473.6 890.0,465.4 880.8,461.4 871.6,463.0 866.1,471.6 872.6,484.8 867.5,484.8 859.4,488.9 853.8,497.1 853.8,566.5" class="co"/>
<path d="M695.0,560.0 698.1,563.1 704.2,569.2 710.3,579.4 716.4,584.5 721.5,592.7 725.6,602.9 722.6,613.1 723.6,625.3 728.1,632.5 720.5,640.6 717.0,646.8 727.3,644.3 719.1,648.2 716.4,660.4 704.2,671.3 699.5,682.5 709.3,698.8 723.6,711.1 728.7,718.8 736.9,722.3 749.1,720.3 770.5,731.1" class="co"/>
<path d="M817.5,731.5 821.2,723.3 818.5,711.1 813.4,702.9 820.6,698.8 812.4,696.8 806.3,689.0 817.5,688.6 811.4,682.5 801.2,680.5 783.8,672.3 772.6,657.0 751.1,660.4 756.2,679.4 763.4,688.6 779.7,696.4 785.9,705.0 788.9,715.2 788.9,731.5" class="co"/>
<path d="M853.8,559.0 853.8,580.4 864.5,583.5 874.7,588.6 880.8,596.7 890.0,600.8 894.7,609.0 892.0,619.2 882.8,625.3 868.1,632.5 864.5,642.7 857.3,648.8 860.4,660.0 871.0,675.4 874.7,698.8 874.3,712.7 868.5,721.3 862.4,726.4 850.2,731.1" class="co"/>
<path d="M749.1,720.4 783.8,736.1 788.9,729.0 788.9,714.7" class="co"/>
<path d="M816.5,731.0 814.4,742.3 829.7,755.5 837.9,759.6 845.1,765.7 854.2,780.0 860.8,798.4 860.8,814.3 867.5,814.3 869.6,802.5 865.5,791.3 866.1,767.8 872.6,758.6 889.0,750.4 900.2,748.4 919.6,752.5 928.8,756.6 940.0,758.6" class="co"/>
<path d="M852.2,728.6 842.0,742.3 831.8,746.4 838.9,755.5 846.1,760.6 853.8,764.1 856.3,778.0 862.4,798.0" class="co"/></g>
<rect x="262.75" y="79.25" width="674.75" height="741.25" fill="none" stroke="#000" stroke-width="1.6"/>
<line x1="301.31" y1="820.5" x2="301.31" y2="826.0" class="t"/>
<text transform="translate(301.31,841.5) scale(0.905,1)" class="ax" text-anchor="middle">85.8W</text>
<line x1="359.14" y1="820.5" x2="359.14" y2="826.0" class="t"/>
<text transform="translate(359.14,841.5) scale(0.905,1)" class="ax" text-anchor="middle">85.5W</text>
<line x1="416.98" y1="820.5" x2="416.98" y2="826.0" class="t"/>
<text transform="translate(416.98,841.5) scale(0.905,1)" class="ax" text-anchor="middle">85.2W</text>
<line x1="474.81" y1="820.5" x2="474.81" y2="826.0" class="t"/>
<text transform="translate(474.81,841.5) scale(0.905,1)" class="ax" text-anchor="middle">84.9W</text>
<line x1="532.65" y1="820.5" x2="532.65" y2="826.0" class="t"/>
<text transform="translate(532.65,841.5) scale(0.905,1)" class="ax" text-anchor="middle">84.6W</text>
<line x1="590.49" y1="820.5" x2="590.49" y2="826.0" class="t"/>
<text transform="translate(590.49,841.5) scale(0.905,1)" class="ax" text-anchor="middle">84.3W</text>
<line x1="648.32" y1="820.5" x2="648.32" y2="826.0" class="t"/>
<text transform="translate(648.32,841.5) scale(0.905,1)" class="ax" text-anchor="middle">84W</text>
<line x1="706.16" y1="820.5" x2="706.16" y2="826.0" class="t"/>
<text transform="translate(706.16,841.5) scale(0.905,1)" class="ax" text-anchor="middle">83.7W</text>
<line x1="763.99" y1="820.5" x2="763.99" y2="826.0" class="t"/>
<text transform="translate(763.99,841.5) scale(0.905,1)" class="ax" text-anchor="middle">83.4W</text>
<line x1="821.83" y1="820.5" x2="821.83" y2="826.0" class="t"/>
<text transform="translate(821.83,841.5) scale(0.905,1)" class="ax" text-anchor="middle">83.1W</text>
<line x1="879.66" y1="820.5" x2="879.66" y2="826.0" class="t"/>
<text transform="translate(879.66,841.5) scale(0.905,1)" class="ax" text-anchor="middle">82.8W</text>
<line x1="257.25" y1="124.17" x2="262.75" y2="124.17" class="t"/>
<text transform="translate(254.0,130.97) scale(0.943,1)" class="ax" text-anchor="end">11.1N</text>
<line x1="257.25" y1="191.56" x2="262.75" y2="191.56" class="t"/>
<text transform="translate(254.0,198.36) scale(0.943,1)" class="ax" text-anchor="end">10.8N</text>
<line x1="257.25" y1="258.95" x2="262.75" y2="258.95" class="t"/>
<text transform="translate(254.0,265.75) scale(0.943,1)" class="ax" text-anchor="end">10.5N</text>
<line x1="257.25" y1="326.33" x2="262.75" y2="326.33" class="t"/>
<text transform="translate(254.0,333.13) scale(0.943,1)" class="ax" text-anchor="end">10.2N</text>
<line x1="257.25" y1="393.72" x2="262.75" y2="393.72" class="t"/>
<text transform="translate(254.0,400.52) scale(0.943,1)" class="ax" text-anchor="end">9.9N</text>
<line x1="257.25" y1="461.11" x2="262.75" y2="461.11" class="t"/>
<text transform="translate(254.0,467.91) scale(0.943,1)" class="ax" text-anchor="end">9.6N</text>
<line x1="257.25" y1="528.49" x2="262.75" y2="528.49" class="t"/>
<text transform="translate(254.0,535.29) scale(0.943,1)" class="ax" text-anchor="end">9.3N</text>
<line x1="257.25" y1="595.88" x2="262.75" y2="595.88" class="t"/>
<text transform="translate(254.0,602.68) scale(0.943,1)" class="ax" text-anchor="end">9N</text>
<line x1="257.25" y1="663.27" x2="262.75" y2="663.27" class="t"/>
<text transform="translate(254.0,670.07) scale(0.943,1)" class="ax" text-anchor="end">8.7N</text>
<line x1="257.25" y1="730.65" x2="262.75" y2="730.65" class="t"/>
<text transform="translate(254.0,737.45) scale(0.943,1)" class="ax" text-anchor="end">8.4N</text>
<line x1="257.25" y1="798.04" x2="262.75" y2="798.04" class="t"/>
<text transform="translate(254.0,804.84) scale(0.943,1)" class="ax" text-anchor="end">8.1N</text>
<polygon points="1057.8,132.25 1068.6999999999998,89.5 1079.6,132.25" fill="#a0a0a0" class="cb"/>
<rect x="1057.8" y="132.25" width="21.799999999999955" height="42.36" fill="#f4f4f4" class="cb"/>
<rect x="1057.8" y="174.61" width="21.799999999999955" height="42.36" fill="#9933cc" class="cb"/>
<rect x="1057.8" y="216.96" width="21.799999999999955" height="42.36" fill="#ff00ff" class="cb"/>
<rect x="1057.8" y="259.32" width="21.799999999999955" height="42.36" fill="#990000" class="cb"/>
<rect x="1057.8" y="301.68" width="21.799999999999955" height="42.36" fill="#cc3300" class="cb"/>
<rect x="1057.8" y="344.03" width="21.799999999999955" height="42.36" fill="#ff0000" class="cb"/>
<rect x="1057.8" y="386.39" width="21.799999999999955" height="42.36" fill="#ff6600" class="cb"/>
<rect x="1057.8" y="428.75" width="21.799999999999955" height="42.36" fill="#ffcc00" class="cb"/>
<rect x="1057.8" y="471.10" width="21.799999999999955" height="42.36" fill="#ffff00" class="cb"/>
<rect x="1057.8" y="513.46" width="21.799999999999955" height="42.36" fill="#008800" class="cb"/>
<rect x="1057.8" y="555.82" width="21.799999999999955" height="42.36" fill="#00bb00" class="cb"/>
<rect x="1057.8" y="598.17" width="21.799999999999955" height="42.36" fill="#00ff00" class="cb"/>
<rect x="1057.8" y="640.53" width="21.799999999999955" height="42.36" fill="#0000ff" class="cb"/>
<rect x="1057.8" y="682.89" width="21.799999999999955" height="42.36" fill="#3399ff" class="cb"/>
<rect x="1057.8" y="725.24" width="21.799999999999955" height="42.36" fill="#66ffff" class="cb"/>
<polygon points="1057.8,767.60 1068.6999999999998,810.8 1079.6,767.60" fill="#ffffff" class="cb"/>
<text transform="translate(1085.6,139.45) scale(1.15,1)" class="cbl">200</text>
<text transform="translate(1085.6,181.81) scale(1.15,1)" class="cbl">150</text>
<text transform="translate(1085.6,224.16) scale(1.15,1)" class="cbl">120</text>
<text transform="translate(1085.6,266.52) scale(1.15,1)" class="cbl">100</text>
<text transform="translate(1085.6,308.88) scale(1.15,1)" class="cbl">90</text>
<text transform="translate(1085.6,351.23) scale(1.15,1)" class="cbl">75</text>
<text transform="translate(1085.6,393.59) scale(1.15,1)" class="cbl">60</text>
<text transform="translate(1085.6,435.95) scale(1.15,1)" class="cbl">50</text>
<text transform="translate(1085.6,478.30) scale(1.15,1)" class="cbl">40</text>
<text transform="translate(1085.6,520.66) scale(1.15,1)" class="cbl">30</text>
<text transform="translate(1085.6,563.02) scale(1.15,1)" class="cbl">25</text>
<text transform="translate(1085.6,605.37) scale(1.15,1)" class="cbl">20</text>
<text transform="translate(1085.6,647.73) scale(1.15,1)" class="cbl">15</text>
<text transform="translate(1085.6,690.09) scale(1.15,1)" class="cbl">12.5</text>
<text transform="translate(1085.6,732.44) scale(1.15,1)" class="cbl">7</text>
<text transform="translate(1085.6,774.80) scale(1.15,1)" class="cbl">3.5</text>
<text x="129.82" y="29.6" class="ti" style="font-size:30.6px" textLength="263.32" lengthAdjust="spacingAndGlyphs">IMN/SARAPIQUI_5</text>
<text x="408.05" y="29.6" class="ti" style="font-size:30.6px" textLength="193.73" lengthAdjust="spacingAndGlyphs">Precipitacion</text>
<text x="617.8" y="29.6" class="ti" style="font-size:30.6px" textLength="162.25" lengthAdjust="spacingAndGlyphs">Acumulada</text>
<text x="796.14" y="29.6" class="ti" style="font-size:30.6px" textLength="35.61" lengthAdjust="spacingAndGlyphs">en</text>
<text x="848.2" y="29.6" class="ti" style="font-size:30.6px" textLength="19.82" lengthAdjust="spacingAndGlyphs">6</text>
<text x="884.55" y="29.6" class="ti" style="font-size:30.6px" textLength="84.04" lengthAdjust="spacingAndGlyphs">horas</text>
<text x="984.4" y="29.6" class="ti" style="font-size:30.6px" textLength="86.19" lengthAdjust="spacingAndGlyphs">(mm)</text>
<text x="461.79" y="61.6" class="ti" style="font-size:31.3px" textLength="78.04" lengthAdjust="spacingAndGlyphs">2025</text>
<text x="539.39" y="60.0" class="ti" style="font-size:31.3px" textLength="21.02" lengthAdjust="spacingAndGlyphs">-</text>
<text x="561.96" y="61.6" class="ti" style="font-size:31.3px" textLength="40.41" lengthAdjust="spacingAndGlyphs">08</text>
<text x="602.56" y="60.0" class="ti" style="font-size:31.3px" textLength="21.97" lengthAdjust="spacingAndGlyphs">-</text>
<text x="627.18" y="61.6" class="ti" style="font-size:31.3px" textLength="37.49" lengthAdjust="spacingAndGlyphs">12</text>
<text x="680.2" y="61.6" class="ti" style="font-size:31.3px" textLength="57.23" lengthAdjust="spacingAndGlyphs">06Z</text>
<text x="326.12" y="876.6" class="ti" style="font-size:22.3px" textLength="104.36" lengthAdjust="spacingAndGlyphs">Instituto</text>
<text x="444.12" y="876.6" class="ti" style="font-size:22.3px" textLength="176.55" lengthAdjust="spacingAndGlyphs">Meteorologico</text>
<text x="634.08" y="876.6" class="ti" style="font-size:22.3px" textLength="109.95" lengthAdjust="spacingAndGlyphs">Nacional</text>
<text x="757.71" y="876.6" class="ti" style="font-size:22.3px" textLength="72.34" lengthAdjust="spacingAndGlyphs">Costa</text>
<text x="842.62" y="876.6" class="ti" style="font-size:22.3px" textLength="57.55" lengthAdjust="spacingAndGlyphs">Rica</text>
</svg>
</body></html>
